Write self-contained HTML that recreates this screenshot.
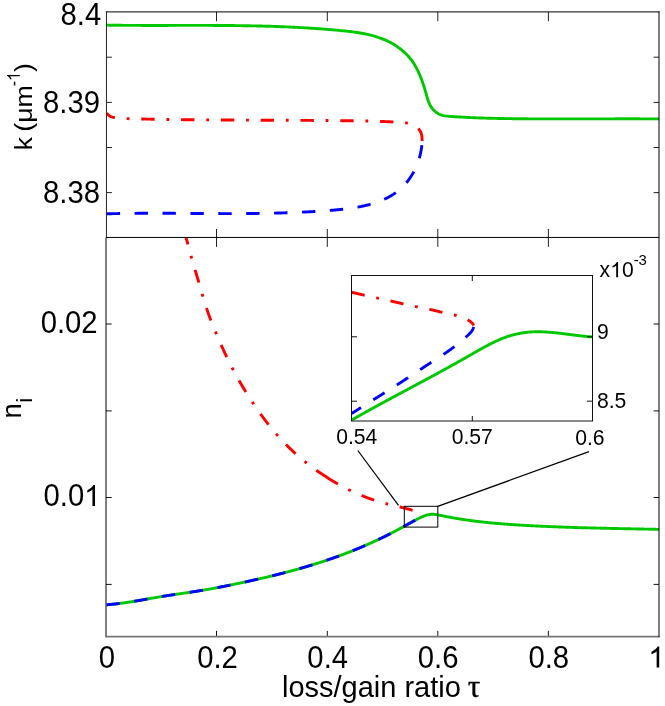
<!DOCTYPE html>
<html><head><meta charset="utf-8"><title>chart</title>
<style>html,body{margin:0;padding:0;background:#fff}svg{display:block}</style>
</head><body>
<svg width="665" height="706" viewBox="0 0 665 706">
<rect width="665" height="706" fill="#fff"/>
<defs>
<clipPath id="ct"><rect x="106.5" y="12.0" width="552.5" height="225.5"/></clipPath>
<clipPath id="cb"><rect x="106.5" y="237.5" width="552.5" height="399.5"/></clipPath>
<clipPath id="ci"><rect x="351.6" y="275.3" width="241.4" height="145.5"/></clipPath>
</defs>
<g clip-path="url(#ct)" fill="none" stroke-width="2.9">
<path d="M106.47 25.15 L107.97 25.17 L109.47 25.19 L110.97 25.21 L112.46 25.23 L113.96 25.25 L115.46 25.27 L116.95 25.28 L118.45 25.30 L119.95 25.31 L121.44 25.32 L122.94 25.33 L124.43 25.35 L125.93 25.36 L127.43 25.37 L128.92 25.37 L130.42 25.38 L131.91 25.39 L133.40 25.40 L134.90 25.40 L136.39 25.41 L137.89 25.41 L139.38 25.42 L140.88 25.42 L142.37 25.43 L143.86 25.43 L145.36 25.43 L146.85 25.43 L148.34 25.43 L149.84 25.44 L151.33 25.44 L152.82 25.44 L154.32 25.44 L155.81 25.44 L157.30 25.44 L158.79 25.43 L160.29 25.43 L161.78 25.43 L163.27 25.43 L164.76 25.43 L166.25 25.43 L167.75 25.43 L169.24 25.42 L170.73 25.42 L172.22 25.42 L173.71 25.42 L175.20 25.41 L176.70 25.41 L178.19 25.41 L179.68 25.41 L181.17 25.40 L182.66 25.40 L184.15 25.40 L185.64 25.40 L187.13 25.40 L188.62 25.40 L190.11 25.39 L191.61 25.39 L193.10 25.39 L194.59 25.39 L196.08 25.39 L197.57 25.39 L199.06 25.39 L200.55 25.39 L202.04 25.40 L203.53 25.40 L205.02 25.40 L206.51 25.40 L208.00 25.41 L209.49 25.41 L210.98 25.41 L212.47 25.42 L213.96 25.43 L215.45 25.43 L216.94 25.44 L218.43 25.45 L219.92 25.45 L221.41 25.46 L222.90 25.47 L224.39 25.48 L225.88 25.49 L227.37 25.51 L228.86 25.52 L230.35 25.53 L231.84 25.55 L233.33 25.56 L234.82 25.58 L236.31 25.60 L237.80 25.62 L239.29 25.63 L240.78 25.65 L242.27 25.68 L243.76 25.70 L245.25 25.72 L246.74 25.75 L248.23 25.77 L249.72 25.80 L251.21 25.83 L252.70 25.86 L254.19 25.89 L255.68 25.92 L257.17 25.95 L258.66 25.99 L260.15 26.02 L261.64 26.06 L263.13 26.10 L264.62 26.14 L266.11 26.18 L267.60 26.22 L269.09 26.27 L270.58 26.31 L272.07 26.36 L273.56 26.41 L275.05 26.46 L276.54 26.51 L278.03 26.56 L279.53 26.62 L281.02 26.68 L282.51 26.73 L284.00 26.79 L285.49 26.86 L286.98 26.92 L288.47 26.99 L289.97 27.05 L291.46 27.12 L292.95 27.19 L294.44 27.27 L295.93 27.34 L297.43 27.42 L298.92 27.49 L300.41 27.58 L301.90 27.66 L303.39 27.74 L304.89 27.83 L306.38 27.92 L307.87 28.01 L309.37 28.10 L310.86 28.20 L312.35 28.29 L313.85 28.39 L315.34 28.49 L316.83 28.60 L318.33 28.70 L319.82 28.81 L321.32 28.92 L322.81 29.03 L324.30 29.15 L325.80 29.26 L327.29 29.38 L328.79 29.51 L330.28 29.63 L331.78 29.76 L333.27 29.89 L334.77 30.02 L336.26 30.15 L337.76 30.29 L339.26 30.43 L340.75 30.57 L342.25 30.72 L343.74 30.87 L345.24 31.02 L346.73 31.18 L348.23 31.34 L349.72 31.52 L351.21 31.69 L352.70 31.88 L354.18 32.08 L355.67 32.28 L357.15 32.50 L358.62 32.73 L360.09 32.97 L361.56 33.22 L363.03 33.48 L364.49 33.77 L365.94 34.06 L367.39 34.37 L368.84 34.70 L370.28 35.04 L371.71 35.41 L373.13 35.79 L374.55 36.19 L375.97 36.61 L377.37 37.06 L378.77 37.52 L380.16 38.01 L381.54 38.52 L382.91 39.05 L384.28 39.61 L385.63 40.20 L386.98 40.81 L388.31 41.45 L389.64 42.12 L390.96 42.81 L392.26 43.54 L393.55 44.29 L394.84 45.08 L396.10 45.89 L397.36 46.74 L398.59 47.61 L399.81 48.51 L401.00 49.44 L402.18 50.40 L403.33 51.38 L404.46 52.39 L405.56 53.43 L406.64 54.50 L407.68 55.59 L408.69 56.70 L409.68 57.84 L410.63 59.01 L411.54 60.19 L412.42 61.41 L413.26 62.64 L414.06 63.90 L414.84 65.17 L415.58 66.46 L416.30 67.77 L416.99 69.08 L417.65 70.41 L418.30 71.75 L418.92 73.09 L419.52 74.44 L420.10 75.80 L420.66 77.17 L421.20 78.54 L421.73 79.93 L422.24 81.32 L422.73 82.72 L423.22 84.12 L423.69 85.54 L424.14 86.96 L424.59 88.40 L425.02 89.84 L425.45 91.29 L425.87 92.75 L426.28 94.21 L426.68 95.69 L427.09 97.16 L427.52 98.63 L427.98 100.09 L428.48 101.52 L429.03 102.92 L429.65 104.28 L430.35 105.60 L431.11 106.87 L431.95 108.08 L432.85 109.22 L433.83 110.29 L434.87 111.28 L435.98 112.20 L437.15 113.02 L438.39 113.74 L439.68 114.36 L441.04 114.88 L442.45 115.29 L443.90 115.63 L445.39 115.89 L446.90 116.09 L448.44 116.25 L449.98 116.38 L451.52 116.49 L453.06 116.60 L454.58 116.70 L456.10 116.80 L457.62 116.89 L459.12 116.99 L460.63 117.07 L462.12 117.16 L463.62 117.24 L465.10 117.32 L466.59 117.40 L468.07 117.47 L469.55 117.54 L471.03 117.61 L472.51 117.67 L473.98 117.74 L475.46 117.80 L476.93 117.86 L478.41 117.91 L479.89 117.96 L481.37 118.01 L482.85 118.06 L484.33 118.11 L485.82 118.16 L487.30 118.20 L488.79 118.24 L490.28 118.28 L491.77 118.32 L493.26 118.35 L494.75 118.38 L496.24 118.42 L497.74 118.45 L499.23 118.48 L500.73 118.50 L502.23 118.53 L503.72 118.56 L505.22 118.58 L506.72 118.60 L508.22 118.62 L509.72 118.64 L511.22 118.66 L512.71 118.68 L514.21 118.70 L515.71 118.71 L517.21 118.73 L518.71 118.74 L520.21 118.76 L521.71 118.77 L523.20 118.78 L524.70 118.80 L526.20 118.81 L527.69 118.82 L529.19 118.83 L530.68 118.84 L532.18 118.85 L533.67 118.85 L535.17 118.86 L536.66 118.87 L538.16 118.88 L539.65 118.88 L541.14 118.89 L542.64 118.89 L544.13 118.90 L545.62 118.90 L547.12 118.90 L548.61 118.91 L550.10 118.91 L551.59 118.91 L553.08 118.92 L554.57 118.92 L556.06 118.92 L557.56 118.92 L559.05 118.92 L560.54 118.92 L562.03 118.92 L563.52 118.92 L565.01 118.92 L566.50 118.92 L567.99 118.92 L569.48 118.92 L570.97 118.91 L572.46 118.91 L573.95 118.91 L575.43 118.91 L576.92 118.90 L578.41 118.90 L579.90 118.90 L581.39 118.90 L582.88 118.89 L584.37 118.89 L585.86 118.89 L587.35 118.88 L588.84 118.88 L590.33 118.88 L591.81 118.87 L593.30 118.87 L594.79 118.87 L596.28 118.86 L597.77 118.86 L599.26 118.86 L600.75 118.85 L602.24 118.85 L603.73 118.85 L605.22 118.84 L606.71 118.84 L608.20 118.84 L609.69 118.83 L611.18 118.83 L612.67 118.83 L614.16 118.83 L615.65 118.82 L617.14 118.82 L618.63 118.82 L620.12 118.82 L621.62 118.82 L623.11 118.82 L624.60 118.82 L626.09 118.82 L627.59 118.81 L629.08 118.81 L630.57 118.82 L632.06 118.82 L633.56 118.82 L635.05 118.82 L636.55 118.82 L638.04 118.82 L639.53 118.82 L641.03 118.83 L642.53 118.83 L644.02 118.83 L645.52 118.84 L647.01 118.84 L648.51 118.85 L650.01 118.85 L651.51 118.86 L653.00 118.87 L654.50 118.87 L656.00 118.88 L657.50 118.89 L659.00 118.90" stroke="#00c800"/>
<path d="M106.68 112.49 L107.17 113.28 L107.70 113.98 L108.29 114.58 L108.93 115.11 L109.60 115.55 L110.32 115.93 L111.06 116.25 L111.82 116.52 L112.61 116.75 L113.41 116.94 L114.21 117.11 L115.02 117.26 L115.84 117.40 L116.65 117.52 L117.47 117.63 L118.29 117.72 L119.11 117.81 L119.93 117.88 L120.75 117.95 L121.58 118.00 L122.40 118.05 L123.23 118.09 L124.06 118.13 L124.88 118.16 L125.71 118.19 L126.54 118.22 L127.37 118.24 L128.20 118.26 L129.02 118.28 L129.85 118.31 L130.68 118.33 L131.51 118.35 L132.34 118.37 L133.17 118.39 L133.99 118.41 L134.82 118.43 L135.65 118.45 L136.48 118.47 L137.31 118.49 L138.14 118.51 L138.97 118.53 L139.79 118.55 L140.62 118.56 L141.45 118.58 L142.28 118.60 L143.11 118.62 L143.94 118.64 L144.77 118.65 L145.60 118.67 L146.42 118.69 L147.25 118.71 L148.08 118.72 L148.91 118.74 L149.74 118.75 L150.57 118.77 L151.40 118.79 L152.22 118.80 L153.05 118.82 L153.88 118.83 L154.71 118.85 L155.54 118.86 L156.37 118.88 L157.20 118.89 L158.03 118.91 L158.85 118.92 L159.68 118.94 L160.51 118.95 L161.34 118.97 L162.17 118.98 L163.00 118.99 L163.83 119.01 L164.66 119.02 L165.49 119.03 L166.31 119.05 L167.14 119.06 L167.97 119.07 L168.80 119.08 L169.63 119.10 L170.46 119.11 L171.29 119.12 L172.12 119.13 L172.94 119.14 L173.77 119.15 L174.60 119.17 L175.43 119.18 L176.26 119.19 L177.09 119.20 L177.92 119.21 L178.75 119.22 L179.58 119.23 L180.40 119.24 L181.23 119.25 L182.06 119.26 L182.89 119.27 L183.72 119.28 L184.55 119.29 L185.38 119.30 L186.21 119.31 L187.04 119.32 L187.86 119.33 L188.69 119.34 L189.52 119.35 L190.35 119.35 L191.18 119.36 L192.01 119.37 L192.84 119.38 L193.67 119.39 L194.50 119.40 L195.33 119.40 L196.15 119.41 L196.98 119.42 L197.81 119.43 L198.64 119.44 L199.47 119.44 L200.30 119.45 L201.13 119.46 L201.96 119.46 L202.79 119.47 L203.61 119.48 L204.44 119.49 L205.27 119.49 L206.10 119.50 L206.93 119.51 L207.76 119.51 L208.59 119.52 L209.42 119.52 L210.25 119.53 L211.07 119.54 L211.90 119.54 L212.73 119.55 L213.56 119.55 L214.39 119.56 L215.22 119.57 L216.05 119.57 L216.88 119.58 L217.71 119.58 L218.53 119.59 L219.36 119.59 L220.19 119.60 L221.02 119.60 L221.85 119.61 L222.68 119.61 L223.51 119.62 L224.34 119.62 L225.17 119.63 L225.99 119.63 L226.82 119.64 L227.65 119.64 L228.48 119.65 L229.31 119.65 L230.14 119.66 L230.97 119.66 L231.80 119.66 L232.63 119.67 L233.45 119.67 L234.28 119.68 L235.11 119.68 L235.94 119.69 L236.77 119.69 L237.60 119.69 L238.43 119.70 L239.26 119.70 L240.09 119.70 L240.91 119.71 L241.74 119.71 L242.57 119.72 L243.40 119.72 L244.23 119.72 L245.06 119.73 L245.89 119.73 L246.72 119.73 L247.54 119.74 L248.37 119.74 L249.20 119.74 L250.03 119.75 L250.86 119.75 L251.69 119.75 L252.52 119.76 L253.35 119.76 L254.17 119.76 L255.00 119.77 L255.83 119.77 L256.66 119.77 L257.49 119.78 L258.32 119.78 L259.15 119.78 L259.97 119.79 L260.80 119.79 L261.63 119.79 L262.46 119.80 L263.29 119.80 L264.12 119.80 L264.95 119.81 L265.77 119.81 L266.60 119.81 L267.43 119.82 L268.26 119.82 L269.09 119.82 L269.92 119.83 L270.75 119.83 L271.57 119.83 L272.40 119.84 L273.23 119.84 L274.06 119.84 L274.89 119.85 L275.72 119.85 L276.55 119.85 L277.37 119.86 L278.20 119.86 L279.03 119.86 L279.86 119.87 L280.69 119.87 L281.52 119.87 L282.34 119.88 L283.17 119.88 L284.00 119.88 L284.83 119.89 L285.66 119.89 L286.49 119.89 L287.31 119.90 L288.14 119.90 L288.97 119.90 L289.80 119.91 L290.63 119.91 L291.46 119.92 L292.28 119.92 L293.11 119.92 L293.94 119.93 L294.77 119.93 L295.60 119.94 L296.43 119.94 L297.25 119.94 L298.08 119.95 L298.91 119.95 L299.74 119.96 L300.57 119.96 L301.39 119.97 L302.22 119.97 L303.05 119.97 L303.88 119.98 L304.71 119.98 L305.53 119.99 L306.36 119.99 L307.19 120.00 L308.02 120.00 L308.85 120.01 L309.67 120.01 L310.50 120.02 L311.33 120.02 L312.16 120.03 L312.99 120.04 L313.81 120.04 L314.64 120.05 L315.47 120.05 L316.30 120.06 L317.13 120.06 L317.95 120.07 L318.78 120.08 L319.61 120.08 L320.44 120.09 L321.26 120.09 L322.09 120.10 L322.92 120.11 L323.75 120.11 L324.57 120.12 L325.40 120.13 L326.23 120.13 L327.06 120.14 L327.89 120.15 L328.71 120.15 L329.54 120.16 L330.37 120.17 L331.20 120.18 L332.02 120.18 L332.85 120.19 L333.68 120.20 L334.51 120.21 L335.33 120.22 L336.16 120.22 L336.99 120.23 L337.82 120.24 L338.64 120.25 L339.47 120.26 L340.30 120.27 L341.12 120.27 L341.95 120.28 L342.78 120.29 L343.61 120.30 L344.43 120.31 L345.26 120.32 L346.09 120.33 L346.92 120.34 L347.74 120.35 L348.57 120.36 L349.40 120.37 L350.22 120.38 L351.05 120.39 L351.88 120.40 L352.71 120.41 L353.53 120.43 L354.36 120.44 L355.19 120.45 L356.01 120.46 L356.84 120.47 L357.67 120.49 L358.50 120.50 L359.32 120.51 L360.15 120.53 L360.98 120.54 L361.81 120.56 L362.63 120.57 L363.46 120.59 L364.29 120.60 L365.12 120.62 L365.95 120.64 L366.77 120.65 L367.60 120.67 L368.43 120.69 L369.26 120.71 L370.09 120.73 L370.91 120.75 L371.74 120.77 L372.57 120.79 L373.40 120.81 L374.23 120.83 L375.06 120.86 L375.89 120.88 L376.72 120.91 L377.55 120.93 L378.38 120.96 L379.21 120.98 L380.04 121.01 L380.87 121.04 L381.70 121.07 L382.53 121.10 L383.36 121.13 L384.19 121.16 L385.02 121.19 L385.85 121.22 L386.68 121.26 L387.51 121.29 L388.35 121.33 L389.18 121.36 L390.01 121.40 L390.84 121.44 L391.68 121.48 L392.51 121.52 L393.34 121.56 L394.18 121.60 L395.01 121.64 L395.84 121.69 L396.68 121.73 L397.51 121.78 L398.35 121.82 L399.18 121.87 L400.02 121.92 L400.85 121.97 L401.69 122.02 L402.52 122.08 L403.35 122.15 L404.18 122.22 L405.01 122.31 L405.83 122.41 L406.64 122.53 L407.45 122.67 L408.26 122.82 L409.05 123.00 L409.84 123.20 L410.62 123.44 L411.39 123.69 L412.15 123.99 L412.90 124.31 L413.64 124.67 L414.36 125.06 L415.07 125.49 L415.75 125.95 L416.41 126.45 L417.05 126.97 L417.66 127.53 L418.24 128.11 L418.79 128.73 L419.30 129.37 L419.77 130.04 L420.20 130.74 L420.59 131.47 L420.93 132.22 L421.23 132.99 L421.47 133.79 L421.66 134.61 L421.81 135.44 L421.92 136.29 L422.01 137.15 L422.06 138.00 L422.10 138.86 L422.12 139.72 L422.13 140.56 L422.13 141.39 L422.15 142.20 L422.16 142.99" stroke="#ff0000" stroke-dasharray="13.4 11.8 2.8 11.8" stroke-dashoffset="3.5" transform="translate(0,0.4)"/>
<path d="M106.70 213.31 L107.57 213.29 L108.45 213.27 L109.33 213.25 L110.21 213.23 L111.08 213.21 L111.96 213.19 L112.84 213.17 L113.72 213.15 L114.59 213.13 L115.47 213.11 L116.35 213.10 L117.23 213.08 L118.10 213.06 L118.98 213.05 L119.86 213.03 L120.73 213.02 L121.61 213.00 L122.49 212.99 L123.37 212.98 L124.24 212.96 L125.12 212.95 L126.00 212.94 L126.87 212.93 L127.75 212.92 L128.63 212.91 L129.51 212.90 L130.38 212.89 L131.26 212.88 L132.14 212.87 L133.01 212.86 L133.89 212.85 L134.77 212.85 L135.65 212.84 L136.52 212.83 L137.40 212.82 L138.28 212.82 L139.15 212.81 L140.03 212.81 L140.91 212.80 L141.78 212.80 L142.66 212.79 L143.54 212.79 L144.41 212.79 L145.29 212.78 L146.17 212.78 L147.04 212.78 L147.92 212.78 L148.80 212.77 L149.67 212.77 L150.55 212.77 L151.43 212.77 L152.30 212.77 L153.18 212.77 L154.06 212.77 L154.93 212.77 L155.81 212.77 L156.69 212.77 L157.56 212.77 L158.44 212.77 L159.32 212.77 L160.19 212.77 L161.07 212.78 L161.95 212.78 L162.82 212.78 L163.70 212.78 L164.58 212.78 L165.45 212.79 L166.33 212.79 L167.21 212.79 L168.08 212.80 L168.96 212.80 L169.84 212.80 L170.71 212.81 L171.59 212.81 L172.47 212.81 L173.34 212.82 L174.22 212.82 L175.09 212.83 L175.97 212.83 L176.85 212.84 L177.72 212.84 L178.60 212.85 L179.48 212.85 L180.35 212.86 L181.23 212.86 L182.11 212.87 L182.98 212.87 L183.86 212.88 L184.73 212.88 L185.61 212.89 L186.49 212.89 L187.36 212.90 L188.24 212.90 L189.12 212.91 L189.99 212.91 L190.87 212.92 L191.74 212.93 L192.62 212.93 L193.50 212.94 L194.37 212.94 L195.25 212.95 L196.13 212.95 L197.00 212.96 L197.88 212.96 L198.75 212.97 L199.63 212.97 L200.51 212.98 L201.38 212.99 L202.26 212.99 L203.13 213.00 L204.01 213.00 L204.89 213.01 L205.76 213.01 L206.64 213.02 L207.51 213.02 L208.39 213.03 L209.27 213.03 L210.14 213.03 L211.02 213.04 L211.89 213.04 L212.77 213.05 L213.65 213.05 L214.52 213.05 L215.40 213.06 L216.27 213.06 L217.15 213.06 L218.03 213.07 L218.90 213.07 L219.78 213.07 L220.65 213.08 L221.53 213.08 L222.41 213.08 L223.28 213.08 L224.16 213.08 L225.03 213.08 L225.91 213.09 L226.79 213.09 L227.66 213.09 L228.54 213.09 L229.41 213.09 L230.29 213.09 L231.16 213.09 L232.04 213.09 L232.92 213.09 L233.79 213.09 L234.67 213.09 L235.54 213.08 L236.42 213.08 L237.30 213.08 L238.17 213.08 L239.05 213.07 L239.92 213.07 L240.80 213.07 L241.67 213.06 L242.55 213.06 L243.43 213.05 L244.30 213.05 L245.18 213.04 L246.05 213.04 L246.93 213.03 L247.81 213.03 L248.68 213.02 L249.56 213.01 L250.43 213.01 L251.31 213.00 L252.18 212.99 L253.06 212.98 L253.94 212.97 L254.81 212.96 L255.69 212.95 L256.56 212.94 L257.44 212.93 L258.31 212.92 L259.19 212.91 L260.07 212.90 L260.94 212.88 L261.82 212.87 L262.69 212.86 L263.57 212.84 L264.44 212.83 L265.32 212.81 L266.20 212.80 L267.07 212.78 L267.95 212.76 L268.82 212.75 L269.70 212.73 L270.57 212.71 L271.45 212.69 L272.33 212.67 L273.20 212.65 L274.08 212.63 L274.95 212.61 L275.83 212.59 L276.70 212.57 L277.58 212.55 L278.46 212.52 L279.33 212.50 L280.21 212.47 L281.08 212.45 L281.96 212.42 L282.83 212.40 L283.71 212.37 L284.59 212.34 L285.46 212.31 L286.34 212.29 L287.21 212.26 L288.09 212.23 L288.96 212.20 L289.84 212.16 L290.72 212.13 L291.59 212.10 L292.47 212.07 L293.34 212.03 L294.22 212.00 L295.09 211.96 L295.97 211.92 L296.85 211.89 L297.72 211.85 L298.60 211.81 L299.47 211.77 L300.35 211.73 L301.22 211.69 L302.10 211.65 L302.98 211.61 L303.85 211.57 L304.73 211.52 L305.60 211.48 L306.48 211.43 L307.35 211.39 L308.23 211.34 L309.11 211.29 L309.98 211.24 L310.86 211.19 L311.73 211.15 L312.61 211.09 L313.48 211.04 L314.36 210.99 L315.24 210.94 L316.11 210.88 L316.99 210.83 L317.86 210.77 L318.74 210.72 L319.61 210.66 L320.49 210.60 L321.37 210.54 L322.24 210.48 L323.12 210.42 L323.99 210.36 L324.87 210.29 L325.75 210.23 L326.62 210.17 L327.50 210.10 L328.37 210.03 L329.25 209.97 L330.12 209.90 L331.00 209.83 L331.88 209.76 L332.75 209.69 L333.63 209.61 L334.50 209.54 L335.38 209.46 L336.25 209.38 L337.13 209.30 L338.00 209.22 L338.88 209.14 L339.75 209.05 L340.63 208.97 L341.50 208.88 L342.37 208.78 L343.25 208.69 L344.12 208.59 L344.99 208.49 L345.86 208.39 L346.73 208.28 L347.61 208.17 L348.48 208.06 L349.35 207.94 L350.21 207.82 L351.08 207.70 L351.95 207.57 L352.82 207.44 L353.68 207.31 L354.55 207.17 L355.42 207.03 L356.28 206.88 L357.14 206.73 L358.01 206.57 L358.87 206.41 L359.73 206.24 L360.59 206.07 L361.45 205.90 L362.31 205.72 L363.16 205.53 L364.02 205.34 L364.87 205.14 L365.73 204.94 L366.58 204.73 L367.43 204.52 L368.28 204.30 L369.13 204.07 L369.98 203.84 L370.83 203.61 L371.67 203.36 L372.52 203.11 L373.36 202.85 L374.20 202.59 L375.04 202.32 L375.88 202.04 L376.71 201.75 L377.54 201.46 L378.37 201.16 L379.20 200.85 L380.02 200.54 L380.83 200.22 L381.65 199.88 L382.46 199.54 L383.27 199.20 L384.07 198.84 L384.86 198.48 L385.66 198.10 L386.44 197.72 L387.23 197.33 L388.00 196.93 L388.77 196.52 L389.54 196.10 L390.30 195.67 L391.05 195.23 L391.80 194.78 L392.53 194.33 L393.27 193.86 L393.99 193.38 L394.71 192.89 L395.42 192.39 L396.12 191.88 L396.82 191.36 L397.51 190.83 L398.19 190.29 L398.86 189.74 L399.52 189.18 L400.17 188.61 L400.82 188.03 L401.46 187.43 L402.09 186.83 L402.71 186.23 L403.32 185.61 L403.92 184.98 L404.52 184.34 L405.10 183.70 L405.68 183.04 L406.25 182.38 L406.81 181.71 L407.36 181.03 L407.90 180.34 L408.43 179.65 L408.95 178.94 L409.47 178.23 L409.97 177.52 L410.46 176.79 L410.95 176.06 L411.42 175.32 L411.89 174.57 L412.34 173.82 L412.79 173.06 L413.22 172.29 L413.64 171.52 L414.06 170.74 L414.46 169.95 L414.86 169.16 L415.24 168.37 L415.62 167.56 L415.98 166.76 L416.33 165.94 L416.68 165.13 L417.01 164.31 L417.33 163.48 L417.65 162.65 L417.95 161.82 L418.24 160.98 L418.52 160.14 L418.80 159.30 L419.06 158.45 L419.31 157.60 L419.55 156.75 L419.78 155.90 L420.01 155.04 L420.22 154.18 L420.42 153.32 L420.61 152.46 L420.79 151.60 L420.96 150.74 L421.12 149.87 L421.27 149.01 L421.41 148.14 L421.54 147.28 L421.66 146.41 L421.77 145.55 L421.87 144.69 L421.96 143.82 L422.04 142.96" stroke="#0000ff" stroke-dasharray="13.4 14.5" transform="translate(0,0.5)"/>
</g>
<g clip-path="url(#cb)" fill="none" stroke-width="2.9">
<path d="M106.30 604.80 L106.68 604.77 L107.06 604.74 L107.44 604.71 L107.82 604.68 L108.20 604.65 L108.58 604.62 L108.95 604.59 L109.33 604.56 L109.71 604.53 L110.09 604.49 L110.47 604.46 L110.85 604.42 L111.23 604.39 L111.61 604.35 L111.98 604.31 L112.36 604.28 L112.74 604.24 L113.12 604.20 L113.49 604.16 L113.87 604.12 L114.25 604.08 L114.63 604.04 L115.01 604.00 L115.38 603.96 L115.76 603.91 L116.14 603.87 L116.51 603.83 L116.89 603.78 L117.27 603.74 L117.64 603.69 L118.02 603.65 L118.40 603.60 L118.77 603.55 L119.15 603.51 L119.53 603.46 L119.90 603.41 L120.28 603.36 L120.66 603.31 L121.03 603.26 L121.41 603.21 L121.78 603.16 L122.16 603.11 L122.54 603.06 L122.91 603.01 L123.29 602.96 L123.66 602.90 L124.04 602.85 L124.41 602.80 L124.79 602.74 L125.17 602.69 L125.54 602.63 L125.92 602.58 L126.29 602.52 L126.67 602.47 L127.04 602.41 L127.42 602.36 L127.79 602.30 L128.17 602.24 L128.54 602.18 L128.92 602.13 L129.29 602.07 L129.67 602.01 L130.04 601.95 L130.42 601.89 L130.79 601.83 L131.16 601.77 L131.54 601.71 L131.91 601.65 L132.29 601.59 L132.66 601.53 L133.04 601.47 L133.41 601.41 L133.79 601.35 L134.16 601.29 L134.53 601.23 L134.91 601.16 L135.28 601.10 L135.66 601.04 L136.03 600.98 L136.40 600.91 L136.78 600.85 L137.15 600.79 L137.53 600.72 L137.90 600.66 L138.27 600.59 L138.65 600.53 L139.02 600.47 L139.40 600.40 L139.77 600.34 L140.14 600.27 L140.52 600.21 L140.89 600.14 L141.27 600.08 L141.64 600.01 L142.01 599.95 L142.39 599.88 L142.76 599.82 L143.13 599.75 L143.51 599.69 L143.88 599.62 L144.25 599.55 L144.63 599.49 L145.00 599.42 L145.38 599.36 L145.75 599.29 L146.12 599.23 L146.50 599.16 L146.87 599.09 L147.24 599.03 L147.62 598.96 L147.99 598.90 L148.37 598.83 L148.74 598.76 L149.11 598.70 L149.49 598.63 L149.86 598.57 L150.23 598.50 L150.61 598.43 L150.98 598.37 L151.35 598.30 L151.73 598.24 L152.10 598.17 L152.48 598.10 L152.85 598.04 L153.22 597.97 L153.60 597.91 L153.97 597.84 L154.35 597.78 L154.72 597.71 L155.09 597.65 L155.47 597.58 L155.84 597.52 L156.22 597.45 L156.59 597.39 L156.96 597.33 L157.34 597.26 L157.71 597.20 L158.09 597.13 L158.46 597.07 L158.83 597.01 L159.21 596.94 L159.58 596.88 L159.96 596.82 L160.33 596.75 L160.71 596.69 L161.08 596.63 L161.45 596.57 L161.83 596.51 L162.20 596.44 L162.58 596.38 L162.95 596.32 L163.33 596.26 L163.70 596.20 L164.08 596.14 L164.45 596.08 L164.83 596.02 L165.20 595.96 L165.58 595.90 L165.95 595.84 L166.33 595.78 L166.70 595.72 L167.08 595.67 L167.45 595.61 L167.83 595.55 L168.20 595.49 L168.58 595.43 L168.95 595.38 L169.33 595.32 L169.70 595.26 L170.08 595.21 L170.45 595.15 L170.83 595.09 L171.21 595.04 L171.58 594.98 L171.96 594.92 L172.33 594.87 L172.71 594.81 L173.08 594.75 L173.46 594.70 L173.83 594.64 L174.21 594.59 L174.59 594.53 L174.96 594.48 L175.34 594.42 L175.71 594.37 L176.09 594.31 L176.46 594.25 L176.84 594.20 L177.22 594.14 L177.59 594.09 L177.97 594.03 L178.34 593.98 L178.72 593.93 L179.09 593.87 L179.47 593.82 L179.85 593.76 L180.22 593.71 L180.60 593.65 L180.97 593.60 L181.35 593.54 L181.72 593.49 L182.10 593.43 L182.48 593.38 L182.85 593.32 L183.23 593.27 L183.60 593.21 L183.98 593.16 L184.35 593.10 L184.73 593.05 L185.11 592.99 L185.48 592.94 L185.86 592.88 L186.23 592.83 L186.61 592.77 L186.98 592.71 L187.36 592.66 L187.73 592.60 L188.11 592.55 L188.49 592.49 L188.86 592.44 L189.24 592.38 L189.61 592.32 L189.99 592.27 L190.36 592.21 L190.74 592.15 L191.11 592.10 L191.49 592.04 L191.86 591.98 L192.24 591.92 L192.61 591.87 L192.99 591.81 L193.36 591.75 L193.74 591.69 L194.11 591.63 L194.49 591.58 L194.86 591.52 L195.24 591.46 L195.61 591.40 L195.99 591.34 L196.36 591.28 L196.74 591.22 L197.11 591.16 L197.49 591.10 L197.86 591.04 L198.24 590.98 L198.61 590.92 L198.99 590.86 L199.36 590.80 L199.73 590.73 L200.11 590.67 L200.48 590.61 L200.86 590.55 L201.23 590.49 L201.61 590.42 L201.98 590.36 L202.35 590.30 L202.73 590.24 L203.10 590.17 L203.48 590.11 L203.85 590.05 L204.22 589.98 L204.60 589.92 L204.97 589.85 L205.35 589.79 L205.72 589.72 L206.09 589.66 L206.47 589.59 L206.84 589.53 L207.21 589.46 L207.59 589.40 L207.96 589.33 L208.33 589.27 L208.71 589.20 L209.08 589.14 L209.46 589.07 L209.83 589.00 L210.20 588.94 L210.58 588.87 L210.95 588.80 L211.32 588.73 L211.70 588.67 L212.07 588.60 L212.44 588.53 L212.81 588.46 L213.19 588.40 L213.56 588.33 L213.93 588.26 L214.31 588.19 L214.68 588.12 L215.05 588.05 L215.43 587.98 L215.80 587.91 L216.17 587.84 L216.54 587.77 L216.92 587.70 L217.29 587.63 L217.66 587.56 L218.03 587.49 L218.41 587.42 L218.78 587.35 L219.15 587.28 L219.53 587.21 L219.90 587.14 L220.27 587.07 L220.64 587.00 L221.02 586.93 L221.39 586.85 L221.76 586.78 L222.13 586.71 L222.50 586.64 L222.88 586.57 L223.25 586.49 L223.62 586.42 L223.99 586.35 L224.37 586.28 L224.74 586.20 L225.11 586.13 L225.48 586.06 L225.85 585.98 L226.23 585.91 L226.60 585.84 L226.97 585.76 L227.34 585.69 L227.71 585.61 L228.09 585.54 L228.46 585.46 L228.83 585.39 L229.20 585.31 L229.57 585.24 L229.95 585.16 L230.32 585.09 L230.69 585.01 L231.06 584.94 L231.43 584.86 L231.81 584.79 L232.18 584.71 L232.55 584.64 L232.92 584.56 L233.29 584.48 L233.66 584.41 L234.03 584.33 L234.41 584.25 L234.78 584.18 L235.15 584.10 L235.52 584.02 L235.89 583.95 L236.26 583.87 L236.64 583.79 L237.01 583.72 L237.38 583.64 L237.75 583.56 L238.12 583.48 L238.49 583.40 L238.86 583.33 L239.23 583.25 L239.61 583.17 L239.98 583.09 L240.35 583.01 L240.72 582.94 L241.09 582.86 L241.46 582.78 L241.83 582.70 L242.20 582.62 L242.58 582.54 L242.95 582.46 L243.32 582.38 L243.69 582.30 L244.06 582.22 L244.43 582.14 L244.80 582.06 L245.17 581.98 L245.54 581.90 L245.92 581.82 L246.29 581.74 L246.66 581.66 L247.03 581.58 L247.40 581.50 L247.77 581.42 L248.14 581.34 L248.51 581.26 L248.88 581.18 L249.25 581.10 L249.62 581.02 L249.99 580.94 L250.37 580.85 L250.74 580.77 L251.11 580.69 L251.48 580.61 L251.85 580.53 L252.22 580.44 L252.59 580.36 L252.96 580.28 L253.33 580.20 L253.70 580.11 L254.07 580.03 L254.44 579.95 L254.81 579.87 L255.18 579.78 L255.55 579.70 L255.92 579.62 L256.29 579.53 L256.66 579.45 L257.03 579.37 L257.40 579.28 L257.78 579.20 L258.15 579.11 L258.52 579.03 L258.89 578.94 L259.26 578.86 L259.63 578.78 L260.00 578.69 L260.37 578.61 L260.74 578.52 L261.11 578.44 L261.48 578.35 L261.85 578.26 L262.22 578.18 L262.59 578.09 L262.95 578.01 L263.32 577.92 L263.69 577.83 L264.06 577.75 L264.43 577.66 L264.80 577.57 L265.17 577.49 L265.54 577.40 L265.91 577.31 L266.28 577.23 L266.65 577.14 L267.02 577.05 L267.39 576.96 L267.76 576.88 L268.13 576.79 L268.50 576.70 L268.87 576.61 L269.24 576.52 L269.61 576.43 L269.97 576.35 L270.34 576.26 L270.71 576.17 L271.08 576.08 L271.45 575.99 L271.82 575.90 L272.19 575.81 L272.56 575.72 L272.93 575.63 L273.29 575.54 L273.66 575.45 L274.03 575.36 L274.40 575.27 L274.77 575.18 L275.14 575.09 L275.51 574.99 L275.87 574.90 L276.24 574.81 L276.61 574.72 L276.98 574.63 L277.35 574.54 L277.72 574.44 L278.08 574.35 L278.45 574.26 L278.82 574.17 L279.19 574.07 L279.56 573.98 L279.92 573.89 L280.29 573.79 L280.66 573.70 L281.03 573.61 L281.40 573.51 L281.76 573.42 L282.13 573.32 L282.50 573.23 L282.87 573.13 L283.23 573.04 L283.60 572.94 L283.97 572.85 L284.34 572.75 L284.70 572.66 L285.07 572.56 L285.44 572.47 L285.81 572.37 L286.17 572.27 L286.54 572.18 L286.91 572.08 L287.27 571.98 L287.64 571.89 L288.01 571.79 L288.37 571.69 L288.74 571.59 L289.11 571.50 L289.47 571.40 L289.84 571.30 L290.21 571.20 L290.57 571.10 L290.94 571.00 L291.31 570.91 L291.67 570.81 L292.04 570.71 L292.41 570.61 L292.77 570.51 L293.14 570.41 L293.50 570.31 L293.87 570.21 L294.24 570.11 L294.60 570.01 L294.97 569.91 L295.33 569.80 L295.70 569.70 L296.07 569.60 L296.43 569.50 L296.80 569.40 L297.16 569.30 L297.53 569.19 L297.89 569.09 L298.26 568.99 L298.62 568.89 L298.99 568.78 L299.35 568.68 L299.72 568.58 L300.08 568.47 L300.45 568.37 L300.81 568.26 L301.18 568.16 L301.54 568.06 L301.91 567.95 L302.27 567.85 L302.64 567.74 L303.00 567.63 L303.37 567.53 L303.73 567.42 L304.09 567.32 L304.46 567.21 L304.82 567.10 L305.19 567.00 L305.55 566.89 L305.92 566.78 L306.28 566.68 L306.64 566.57 L307.01 566.46 L307.37 566.35 L307.73 566.24 L308.10 566.14 L308.46 566.03 L308.82 565.92 L309.19 565.81 L309.55 565.70 L309.91 565.59 L310.28 565.48 L310.64 565.37 L311.00 565.26 L311.37 565.15 L311.73 565.04 L312.09 564.93 L312.46 564.82 L312.82 564.70 L313.18 564.59 L313.54 564.48 L313.91 564.37 L314.27 564.26 L314.63 564.14 L314.99 564.03 L315.35 563.92 L315.72 563.80 L316.08 563.69 L316.44 563.58 L316.80 563.46 L317.16 563.35 L317.53 563.23 L317.89 563.12 L318.25 563.00 L318.61 562.89 L318.97 562.77 L319.33 562.66 L319.69 562.54 L320.06 562.43 L320.42 562.31 L320.78 562.19 L321.14 562.08 L321.50 561.96 L321.86 561.84 L322.22 561.72 L322.58 561.61 L322.94 561.49 L323.30 561.37 L323.66 561.25 L324.02 561.13 L324.38 561.01 L324.74 560.89 L325.10 560.77 L325.46 560.65 L325.82 560.53 L326.18 560.41 L326.54 560.29 L326.90 560.17 L327.26 560.05 L327.62 559.93 L327.98 559.81 L328.34 559.68 L328.70 559.56 L329.06 559.44 L329.42 559.32 L329.78 559.19 L330.14 559.07 L330.49 558.95 L330.85 558.82 L331.21 558.70 L331.57 558.57 L331.93 558.45 L332.29 558.32 L332.65 558.20 L333.00 558.07 L333.36 557.95 L333.72 557.82 L334.08 557.70 L334.44 557.57 L334.79 557.44 L335.15 557.32 L335.51 557.19 L335.87 557.06 L336.22 556.93 L336.58 556.81 L336.94 556.68 L337.29 556.55 L337.65 556.42 L338.01 556.29 L338.37 556.16 L338.72 556.03 L339.08 555.90 L339.44 555.77 L339.79 555.64 L340.15 555.51 L340.50 555.38 L340.86 555.25 L341.22 555.12 L341.57 554.98 L341.93 554.85 L342.28 554.72 L342.64 554.59 L342.99 554.45 L343.35 554.32 L343.71 554.19 L344.06 554.05 L344.42 553.92 L344.77 553.79 L345.13 553.65 L345.48 553.52 L345.83 553.38 L346.19 553.25 L346.54 553.11 L346.90 552.97 L347.25 552.84 L347.61 552.70 L347.96 552.57 L348.31 552.43 L348.67 552.29 L349.02 552.15 L349.37 552.02 L349.73 551.88 L350.08 551.74 L350.43 551.60 L350.79 551.46 L351.14 551.32 L351.49 551.18 L351.85 551.04 L352.20 550.90 L352.55 550.76 L352.90 550.62 L353.26 550.48 L353.61 550.34 L353.96 550.20 L354.31 550.06 L354.66 549.91 L355.02 549.77 L355.37 549.63 L355.72 549.49 L356.07 549.34 L356.42 549.20 L356.77 549.06 L357.12 548.91 L357.48 548.77 L357.83 548.62 L358.18 548.48 L358.53 548.33 L358.88 548.19 L359.23 548.04 L359.58 547.90 L359.93 547.75 L360.28 547.60 L360.63 547.46 L360.98 547.31 L361.33 547.16 L361.68 547.01 L362.03 546.86 L362.37 546.72 L362.72 546.57 L363.07 546.42 L363.42 546.27 L363.77 546.12 L364.12 545.97 L364.47 545.82 L364.82 545.67 L365.16 545.52 L365.51 545.37 L365.86 545.22 L366.21 545.06 L366.55 544.91 L366.90 544.76 L367.25 544.61 L367.60 544.46 L367.94 544.30 L368.29 544.15 L368.64 544.00 L368.98 543.84 L369.33 543.69 L369.68 543.53 L370.02 543.38 L370.37 543.22 L370.72 543.07 L371.06 542.91 L371.41 542.75 L371.75 542.60 L372.10 542.44 L372.44 542.28 L372.79 542.13 L373.13 541.97 L373.48 541.81 L373.82 541.65 L374.17 541.50 L374.51 541.34 L374.86 541.18 L375.20 541.02 L375.54 540.86 L375.89 540.70 L376.23 540.54 L376.58 540.38 L376.92 540.22 L377.26 540.06 L377.61 539.89 L377.95 539.73 L378.29 539.57 L378.63 539.41 L378.98 539.24 L379.32 539.08 L379.66 538.92 L380.00 538.75 L380.35 538.59 L380.69 538.43 L381.03 538.26 L381.37 538.10 L381.71 537.93 L382.05 537.77 L382.39 537.60 L382.73 537.43 L383.08 537.27 L383.42 537.10 L383.76 536.93 L384.10 536.77 L384.44 536.60 L384.78 536.43 L385.12 536.26 L385.46 536.09 L385.80 535.92 L386.13 535.75 L386.47 535.59 L386.81 535.42 L387.15 535.24 L387.49 535.07 L387.83 534.90 L388.17 534.73 L388.51 534.56 L388.84 534.39 L389.18 534.22 L389.52 534.04 L389.86 533.87 L390.19 533.70 L390.53 533.53 L390.87 533.35 L391.21 533.18 L391.54 533.00 L391.88 532.83 L392.22 532.65 L392.55 532.48 L392.89 532.30 L393.22 532.13 L393.56 531.95 L393.90 531.77 L394.23 531.60 L394.57 531.42 L394.90 531.24 L395.24 531.07 L395.57 530.89 L395.91 530.71 L396.24 530.53 L396.58 530.35 L396.91 530.18 L397.25 530.00 L397.58 529.82 L397.92 529.64 L398.25 529.46 L398.58 529.28 L398.92 529.10 L399.25 528.92 L399.59 528.74 L399.92 528.56 L400.26 528.38 L400.59 528.20 L400.92 528.02 L401.26 527.84 L401.59 527.66 L401.92 527.48 L402.26 527.30 L402.59 527.12 L402.93 526.93 L403.26 526.75 L403.59 526.57 L403.93 526.39 L404.26 526.21 L404.59 526.03 L404.93 525.85 L405.26 525.66 L405.60 525.48 L405.93 525.30 L406.26 525.12 L406.60 524.94 L406.93 524.76 L407.26 524.57 L407.60 524.39 L407.93 524.21 L408.27 524.03 L408.60 523.85 L408.93 523.67 L409.27 523.48 L409.60 523.30 L409.94 523.12 L410.27 522.94 L410.60 522.76 L410.94 522.58 L411.27 522.40 L411.61 522.22 L411.94 522.03 L412.28 521.85 L412.61 521.67 L412.95 521.49 L413.28 521.31 L413.62 521.13 L413.95 520.95 L414.29 520.77 L414.62 520.59 L414.96 520.41 L415.29 520.23 L415.63 520.05 L415.97 519.87 L416.30 519.69 L416.64 519.51 L416.98 519.34 L417.31 519.16 L417.65 518.98 L417.99 518.81 L418.33 518.63 L418.67 518.46 L419.01 518.29 L419.35 518.11 L419.69 517.94 L420.03 517.77 L420.38 517.60 L420.72 517.44 L421.07 517.27 L421.41 517.11 L421.76 516.95 L422.11 516.79 L422.45 516.64 L422.80 516.48 L423.16 516.34 L423.51 516.19 L423.86 516.05 L424.22 515.91 L424.57 515.78 L424.93 515.65 L425.29 515.53 L425.65 515.41 L426.01 515.30 L426.37 515.19 L426.73 515.08 L427.09 514.98 L427.45 514.89 L427.82 514.80 L428.18 514.72 L428.55 514.65 L428.91 514.58 L429.28 514.52 L429.65 514.46 L430.02 514.41 L430.38 514.37 L430.75 514.34 L431.12 514.31 L431.49 514.29 L431.86 514.28 L432.23 514.27 L432.60 514.27 L432.97 514.28 L433.34 514.30 L433.71 514.32 L434.09 514.34 L434.46 514.38 L434.83 514.41 L435.20 514.45 L435.57 514.50 L435.95 514.55 L436.32 514.60 L436.69 514.66 L437.07 514.72 L437.44 514.79 L437.81 514.85 L438.19 514.92 L438.56 515.00 L438.94 515.07 L439.31 515.14 L439.69 515.22 L440.06 515.30 L440.43 515.38 L440.81 515.45 L441.18 515.53 L441.56 515.61 L441.93 515.69 L442.31 515.77 L442.68 515.84 L443.06 515.92 L443.43 516.00 L443.81 516.07 L444.18 516.15 L444.56 516.22 L444.93 516.30 L445.31 516.37 L445.68 516.44 L446.06 516.52 L446.43 516.59 L446.81 516.66 L447.18 516.74 L447.56 516.81 L447.93 516.88 L448.31 516.95 L448.68 517.02 L449.06 517.09 L449.43 517.16 L449.81 517.23 L450.18 517.30 L450.56 517.37 L450.93 517.44 L451.31 517.51 L451.68 517.57 L452.06 517.64 L452.43 517.71 L452.81 517.78 L453.18 517.84 L453.56 517.91 L453.94 517.97 L454.31 518.04 L454.69 518.10 L455.06 518.17 L455.44 518.23 L455.81 518.30 L456.19 518.36 L456.56 518.42 L456.94 518.48 L457.31 518.55 L457.69 518.61 L458.07 518.67 L458.44 518.73 L458.82 518.79 L459.19 518.85 L459.57 518.91 L459.94 518.97 L460.32 519.03 L460.70 519.09 L461.07 519.15 L461.45 519.21 L461.82 519.27 L462.20 519.33 L462.58 519.38 L462.95 519.44 L463.33 519.50 L463.70 519.55 L464.08 519.61 L464.45 519.67 L464.83 519.72 L465.21 519.78 L465.58 519.83 L465.96 519.89 L466.33 519.94 L466.71 520.00 L467.09 520.05 L467.46 520.10 L467.84 520.16 L468.22 520.21 L468.59 520.26 L468.97 520.31 L469.34 520.36 L469.72 520.42 L470.10 520.47 L470.47 520.52 L470.85 520.57 L471.23 520.62 L471.60 520.67 L471.98 520.72 L472.35 520.77 L472.73 520.82 L473.11 520.87 L473.48 520.91 L473.86 520.96 L474.24 521.01 L474.61 521.06 L474.99 521.11 L475.37 521.15 L475.74 521.20 L476.12 521.25 L476.50 521.29 L476.87 521.34 L477.25 521.38 L477.63 521.43 L478.00 521.47 L478.38 521.52 L478.76 521.56 L479.13 521.61 L479.51 521.65 L479.89 521.70 L480.26 521.74 L480.64 521.78 L481.02 521.83 L481.39 521.87 L481.77 521.91 L482.15 521.95 L482.52 521.99 L482.90 522.04 L483.28 522.08 L483.65 522.12 L484.03 522.16 L484.41 522.20 L484.79 522.24 L485.16 522.28 L485.54 522.32 L485.92 522.36 L486.29 522.40 L486.67 522.44 L487.05 522.48 L487.42 522.52 L487.80 522.55 L488.18 522.59 L488.56 522.63 L488.93 522.67 L489.31 522.71 L489.69 522.74 L490.06 522.78 L490.44 522.82 L490.82 522.85 L491.20 522.89 L491.57 522.93 L491.95 522.96 L492.33 523.00 L492.71 523.03 L493.08 523.07 L493.46 523.10 L493.84 523.14 L494.22 523.17 L494.59 523.21 L494.97 523.24 L495.35 523.27 L495.72 523.31 L496.10 523.34 L496.48 523.37 L496.86 523.41 L497.23 523.44 L497.61 523.47 L497.99 523.50 L498.37 523.54 L498.74 523.57 L499.12 523.60 L499.50 523.63 L499.88 523.66 L500.26 523.69 L500.63 523.73 L501.01 523.76 L501.39 523.79 L501.77 523.82 L502.14 523.85 L502.52 523.88 L502.90 523.91 L503.28 523.94 L503.65 523.97 L504.03 524.00 L504.41 524.02 L504.79 524.05 L505.17 524.08 L505.54 524.11 L505.92 524.14 L506.30 524.17 L506.68 524.20 L507.06 524.22 L507.43 524.25 L507.81 524.28 L508.19 524.31 L508.57 524.33 L508.95 524.36 L509.32 524.39 L509.70 524.41 L510.08 524.44 L510.46 524.47 L510.84 524.49 L511.21 524.52 L511.59 524.55 L511.97 524.57 L512.35 524.60 L512.73 524.62 L513.10 524.65 L513.48 524.67 L513.86 524.70 L514.24 524.72 L514.62 524.75 L514.99 524.77 L515.37 524.80 L515.75 524.82 L516.13 524.85 L516.51 524.87 L516.89 524.89 L517.26 524.92 L517.64 524.94 L518.02 524.96 L518.40 524.99 L518.78 525.01 L519.16 525.03 L519.53 525.06 L519.91 525.08 L520.29 525.10 L520.67 525.12 L521.05 525.15 L521.43 525.17 L521.80 525.19 L522.18 525.21 L522.56 525.24 L522.94 525.26 L523.32 525.28 L523.70 525.30 L524.08 525.32 L524.45 525.34 L524.83 525.37 L525.21 525.39 L525.59 525.41 L525.97 525.43 L526.35 525.45 L526.73 525.47 L527.10 525.49 L527.48 525.51 L527.86 525.53 L528.24 525.55 L528.62 525.57 L529.00 525.59 L529.38 525.61 L529.75 525.63 L530.13 525.65 L530.51 525.67 L530.89 525.69 L531.27 525.71 L531.65 525.73 L532.03 525.75 L532.41 525.77 L532.78 525.79 L533.16 525.81 L533.54 525.83 L533.92 525.85 L534.30 525.87 L534.68 525.89 L535.06 525.91 L535.44 525.92 L535.81 525.94 L536.19 525.96 L536.57 525.98 L536.95 526.00 L537.33 526.02 L537.71 526.04 L538.09 526.05 L538.47 526.07 L538.85 526.09 L539.23 526.11 L539.60 526.13 L539.98 526.14 L540.36 526.16 L540.74 526.18 L541.12 526.20 L541.50 526.21 L541.88 526.23 L542.26 526.25 L542.64 526.27 L543.02 526.28 L543.39 526.30 L543.77 526.32 L544.15 526.33 L544.53 526.35 L544.91 526.37 L545.29 526.39 L545.67 526.40 L546.05 526.42 L546.43 526.43 L546.81 526.45 L547.19 526.47 L547.56 526.48 L547.94 526.50 L548.32 526.52 L548.70 526.53 L549.08 526.55 L549.46 526.56 L549.84 526.58 L550.22 526.60 L550.60 526.61 L550.98 526.63 L551.36 526.64 L551.74 526.66 L552.11 526.67 L552.49 526.69 L552.87 526.70 L553.25 526.72 L553.63 526.74 L554.01 526.75 L554.39 526.77 L554.77 526.78 L555.15 526.80 L555.53 526.81 L555.91 526.82 L556.29 526.84 L556.67 526.85 L557.05 526.87 L557.43 526.88 L557.80 526.90 L558.18 526.91 L558.56 526.93 L558.94 526.94 L559.32 526.95 L559.70 526.97 L560.08 526.98 L560.46 527.00 L560.84 527.01 L561.22 527.02 L561.60 527.04 L561.98 527.05 L562.36 527.07 L562.74 527.08 L563.12 527.09 L563.50 527.11 L563.88 527.12 L564.25 527.13 L564.63 527.15 L565.01 527.16 L565.39 527.17 L565.77 527.19 L566.15 527.20 L566.53 527.21 L566.91 527.23 L567.29 527.24 L567.67 527.25 L568.05 527.26 L568.43 527.28 L568.81 527.29 L569.19 527.30 L569.57 527.31 L569.95 527.33 L570.33 527.34 L570.71 527.35 L571.09 527.36 L571.47 527.38 L571.84 527.39 L572.22 527.40 L572.60 527.41 L572.98 527.43 L573.36 527.44 L573.74 527.45 L574.12 527.46 L574.50 527.47 L574.88 527.48 L575.26 527.50 L575.64 527.51 L576.02 527.52 L576.40 527.53 L576.78 527.54 L577.16 527.55 L577.54 527.57 L577.92 527.58 L578.30 527.59 L578.68 527.60 L579.06 527.61 L579.44 527.62 L579.82 527.63 L580.20 527.64 L580.58 527.66 L580.96 527.67 L581.33 527.68 L581.71 527.69 L582.09 527.70 L582.47 527.71 L582.85 527.72 L583.23 527.73 L583.61 527.74 L583.99 527.75 L584.37 527.76 L584.75 527.77 L585.13 527.79 L585.51 527.80 L585.89 527.81 L586.27 527.82 L586.65 527.83 L587.03 527.84 L587.41 527.85 L587.79 527.86 L588.17 527.87 L588.55 527.88 L588.93 527.89 L589.31 527.90 L589.69 527.91 L590.07 527.92 L590.45 527.93 L590.83 527.94 L591.21 527.95 L591.59 527.96 L591.97 527.97 L592.34 527.98 L592.72 527.99 L593.10 528.00 L593.48 528.01 L593.86 528.02 L594.24 528.03 L594.62 528.04 L595.00 528.04 L595.38 528.05 L595.76 528.06 L596.14 528.07 L596.52 528.08 L596.90 528.09 L597.28 528.10 L597.66 528.11 L598.04 528.12 L598.42 528.13 L598.80 528.14 L599.18 528.15 L599.56 528.16 L599.94 528.17 L600.32 528.17 L600.70 528.18 L601.08 528.19 L601.46 528.20 L601.84 528.21 L602.22 528.22 L602.60 528.23 L602.98 528.24 L603.36 528.25 L603.73 528.25 L604.11 528.26 L604.49 528.27 L604.87 528.28 L605.25 528.29 L605.63 528.30 L606.01 528.31 L606.39 528.32 L606.77 528.32 L607.15 528.33 L607.53 528.34 L607.91 528.35 L608.29 528.36 L608.67 528.37 L609.05 528.37 L609.43 528.38 L609.81 528.39 L610.19 528.40 L610.57 528.41 L610.95 528.42 L611.33 528.42 L611.71 528.43 L612.09 528.44 L612.47 528.45 L612.85 528.46 L613.23 528.47 L613.61 528.47 L613.98 528.48 L614.36 528.49 L614.74 528.50 L615.12 528.51 L615.50 528.51 L615.88 528.52 L616.26 528.53 L616.64 528.54 L617.02 528.55 L617.40 528.55 L617.78 528.56 L618.16 528.57 L618.54 528.58 L618.92 528.58 L619.30 528.59 L619.68 528.60 L620.06 528.61 L620.44 528.62 L620.82 528.62 L621.20 528.63 L621.58 528.64 L621.96 528.65 L622.33 528.65 L622.71 528.66 L623.09 528.67 L623.47 528.68 L623.85 528.69 L624.23 528.69 L624.61 528.70 L624.99 528.71 L625.37 528.72 L625.75 528.72 L626.13 528.73 L626.51 528.74 L626.89 528.75 L627.27 528.75 L627.65 528.76 L628.03 528.77 L628.41 528.78 L628.79 528.78 L629.16 528.79 L629.54 528.80 L629.92 528.81 L630.30 528.81 L630.68 528.82 L631.06 528.83 L631.44 528.84 L631.82 528.84 L632.20 528.85 L632.58 528.86 L632.96 528.87 L633.34 528.87 L633.72 528.88 L634.10 528.89 L634.48 528.90 L634.85 528.90 L635.23 528.91 L635.61 528.92 L635.99 528.93 L636.37 528.93 L636.75 528.94 L637.13 528.95 L637.51 528.96 L637.89 528.96 L638.27 528.97 L638.65 528.98 L639.03 528.99 L639.41 528.99 L639.78 529.00 L640.16 529.01 L640.54 529.01 L640.92 529.02 L641.30 529.03 L641.68 529.04 L642.06 529.04 L642.44 529.05 L642.82 529.06 L643.20 529.07 L643.58 529.07 L643.96 529.08 L644.33 529.09 L644.71 529.10 L645.09 529.10 L645.47 529.11 L645.85 529.12 L646.23 529.13 L646.61 529.13 L646.99 529.14 L647.37 529.15 L647.75 529.16 L648.13 529.16 L648.50 529.17 L648.88 529.18 L649.26 529.19 L649.64 529.19 L650.02 529.20 L650.40 529.21 L650.78 529.22 L651.16 529.22 L651.54 529.23 L651.91 529.24 L652.29 529.25 L652.67 529.25 L653.05 529.26 L653.43 529.27 L653.81 529.28 L654.19 529.28 L654.57 529.29 L654.95 529.30 L655.32 529.31 L655.70 529.31 L656.08 529.32 L656.46 529.33 L656.84 529.34 L657.22 529.34 L657.60 529.35 L657.98 529.36 L658.35 529.37 L658.73 529.38 L659.11 529.38 L659.49 529.39" stroke="#00c800"/>
<path d="M106.30 604.80 L106.68 604.77 L107.06 604.74 L107.44 604.71 L107.82 604.68 L108.20 604.65 L108.58 604.62 L108.95 604.59 L109.33 604.56 L109.71 604.53 L110.09 604.49 L110.47 604.46 L110.85 604.42 L111.23 604.39 L111.61 604.35 L111.98 604.31 L112.36 604.28 L112.74 604.24 L113.12 604.20 L113.49 604.16 L113.87 604.12 L114.25 604.08 L114.63 604.04 L115.01 604.00 L115.38 603.96 L115.76 603.91 L116.14 603.87 L116.51 603.83 L116.89 603.78 L117.27 603.74 L117.64 603.69 L118.02 603.65 L118.40 603.60 L118.77 603.55 L119.15 603.51 L119.53 603.46 L119.90 603.41 L120.28 603.36 L120.66 603.31 L121.03 603.26 L121.41 603.21 L121.78 603.16 L122.16 603.11 L122.54 603.06 L122.91 603.01 L123.29 602.96 L123.66 602.90 L124.04 602.85 L124.41 602.80 L124.79 602.74 L125.17 602.69 L125.54 602.63 L125.92 602.58 L126.29 602.52 L126.67 602.47 L127.04 602.41 L127.42 602.36 L127.79 602.30 L128.17 602.24 L128.54 602.18 L128.92 602.13 L129.29 602.07 L129.67 602.01 L130.04 601.95 L130.42 601.89 L130.79 601.83 L131.16 601.77 L131.54 601.71 L131.91 601.65 L132.29 601.59 L132.66 601.53 L133.04 601.47 L133.41 601.41 L133.79 601.35 L134.16 601.29 L134.53 601.23 L134.91 601.16 L135.28 601.10 L135.66 601.04 L136.03 600.98 L136.40 600.91 L136.78 600.85 L137.15 600.79 L137.53 600.72 L137.90 600.66 L138.27 600.59 L138.65 600.53 L139.02 600.47 L139.40 600.40 L139.77 600.34 L140.14 600.27 L140.52 600.21 L140.89 600.14 L141.27 600.08 L141.64 600.01 L142.01 599.95 L142.39 599.88 L142.76 599.82 L143.13 599.75 L143.51 599.69 L143.88 599.62 L144.25 599.55 L144.63 599.49 L145.00 599.42 L145.38 599.36 L145.75 599.29 L146.12 599.23 L146.50 599.16 L146.87 599.09 L147.24 599.03 L147.62 598.96 L147.99 598.90 L148.37 598.83 L148.74 598.76 L149.11 598.70 L149.49 598.63 L149.86 598.57 L150.23 598.50 L150.61 598.43 L150.98 598.37 L151.35 598.30 L151.73 598.24 L152.10 598.17 L152.48 598.10 L152.85 598.04 L153.22 597.97 L153.60 597.91 L153.97 597.84 L154.35 597.78 L154.72 597.71 L155.09 597.65 L155.47 597.58 L155.84 597.52 L156.22 597.45 L156.59 597.39 L156.96 597.33 L157.34 597.26 L157.71 597.20 L158.09 597.13 L158.46 597.07 L158.83 597.01 L159.21 596.94 L159.58 596.88 L159.96 596.82 L160.33 596.75 L160.71 596.69 L161.08 596.63 L161.45 596.57 L161.83 596.51 L162.20 596.44 L162.58 596.38 L162.95 596.32 L163.33 596.26 L163.70 596.20 L164.08 596.14 L164.45 596.08 L164.83 596.02 L165.20 595.96 L165.58 595.90 L165.95 595.84 L166.33 595.78 L166.70 595.72 L167.08 595.67 L167.45 595.61 L167.83 595.55 L168.20 595.49 L168.58 595.43 L168.95 595.38 L169.33 595.32 L169.70 595.26 L170.08 595.21 L170.45 595.15 L170.83 595.09 L171.21 595.04 L171.58 594.98 L171.96 594.92 L172.33 594.87 L172.71 594.81 L173.08 594.75 L173.46 594.70 L173.83 594.64 L174.21 594.59 L174.59 594.53 L174.96 594.48 L175.34 594.42 L175.71 594.37 L176.09 594.31 L176.46 594.25 L176.84 594.20 L177.22 594.14 L177.59 594.09 L177.97 594.03 L178.34 593.98 L178.72 593.93 L179.09 593.87 L179.47 593.82 L179.85 593.76 L180.22 593.71 L180.60 593.65 L180.97 593.60 L181.35 593.54 L181.72 593.49 L182.10 593.43 L182.48 593.38 L182.85 593.32 L183.23 593.27 L183.60 593.21 L183.98 593.16 L184.35 593.10 L184.73 593.05 L185.11 592.99 L185.48 592.94 L185.86 592.88 L186.23 592.83 L186.61 592.77 L186.98 592.71 L187.36 592.66 L187.73 592.60 L188.11 592.55 L188.49 592.49 L188.86 592.44 L189.24 592.38 L189.61 592.32 L189.99 592.27 L190.36 592.21 L190.74 592.15 L191.11 592.10 L191.49 592.04 L191.86 591.98 L192.24 591.92 L192.61 591.87 L192.99 591.81 L193.36 591.75 L193.74 591.69 L194.11 591.63 L194.49 591.58 L194.86 591.52 L195.24 591.46 L195.61 591.40 L195.99 591.34 L196.36 591.28 L196.74 591.22 L197.11 591.16 L197.49 591.10 L197.86 591.04 L198.24 590.98 L198.61 590.92 L198.99 590.86 L199.36 590.80 L199.73 590.73 L200.11 590.67 L200.48 590.61 L200.86 590.55 L201.23 590.49 L201.61 590.42 L201.98 590.36 L202.35 590.30 L202.73 590.24 L203.10 590.17 L203.48 590.11 L203.85 590.05 L204.22 589.98 L204.60 589.92 L204.97 589.85 L205.35 589.79 L205.72 589.72 L206.09 589.66 L206.47 589.59 L206.84 589.53 L207.21 589.46 L207.59 589.40 L207.96 589.33 L208.33 589.27 L208.71 589.20 L209.08 589.14 L209.46 589.07 L209.83 589.00 L210.20 588.94 L210.58 588.87 L210.95 588.80 L211.32 588.73 L211.70 588.67 L212.07 588.60 L212.44 588.53 L212.81 588.46 L213.19 588.40 L213.56 588.33 L213.93 588.26 L214.31 588.19 L214.68 588.12 L215.05 588.05 L215.43 587.98 L215.80 587.91 L216.17 587.84 L216.54 587.77 L216.92 587.70 L217.29 587.63 L217.66 587.56 L218.03 587.49 L218.41 587.42 L218.78 587.35 L219.15 587.28 L219.53 587.21 L219.90 587.14 L220.27 587.07 L220.64 587.00 L221.02 586.93 L221.39 586.85 L221.76 586.78 L222.13 586.71 L222.50 586.64 L222.88 586.57 L223.25 586.49 L223.62 586.42 L223.99 586.35 L224.37 586.28 L224.74 586.20 L225.11 586.13 L225.48 586.06 L225.85 585.98 L226.23 585.91 L226.60 585.84 L226.97 585.76 L227.34 585.69 L227.71 585.61 L228.09 585.54 L228.46 585.46 L228.83 585.39 L229.20 585.31 L229.57 585.24 L229.95 585.16 L230.32 585.09 L230.69 585.01 L231.06 584.94 L231.43 584.86 L231.81 584.79 L232.18 584.71 L232.55 584.64 L232.92 584.56 L233.29 584.48 L233.66 584.41 L234.03 584.33 L234.41 584.25 L234.78 584.18 L235.15 584.10 L235.52 584.02 L235.89 583.95 L236.26 583.87 L236.64 583.79 L237.01 583.72 L237.38 583.64 L237.75 583.56 L238.12 583.48 L238.49 583.40 L238.86 583.33 L239.23 583.25 L239.61 583.17 L239.98 583.09 L240.35 583.01 L240.72 582.94 L241.09 582.86 L241.46 582.78 L241.83 582.70 L242.20 582.62 L242.58 582.54 L242.95 582.46 L243.32 582.38 L243.69 582.30 L244.06 582.22 L244.43 582.14 L244.80 582.06 L245.17 581.98 L245.54 581.90 L245.92 581.82 L246.29 581.74 L246.66 581.66 L247.03 581.58 L247.40 581.50 L247.77 581.42 L248.14 581.34 L248.51 581.26 L248.88 581.18 L249.25 581.10 L249.62 581.02 L249.99 580.94 L250.37 580.85 L250.74 580.77 L251.11 580.69 L251.48 580.61 L251.85 580.53 L252.22 580.44 L252.59 580.36 L252.96 580.28 L253.33 580.20 L253.70 580.11 L254.07 580.03 L254.44 579.95 L254.81 579.87 L255.18 579.78 L255.55 579.70 L255.92 579.62 L256.29 579.53 L256.66 579.45 L257.03 579.37 L257.40 579.28 L257.78 579.20 L258.15 579.11 L258.52 579.03 L258.89 578.94 L259.26 578.86 L259.63 578.78 L260.00 578.69 L260.37 578.61 L260.74 578.52 L261.11 578.44 L261.48 578.35 L261.85 578.26 L262.22 578.18 L262.59 578.09 L262.95 578.01 L263.32 577.92 L263.69 577.83 L264.06 577.75 L264.43 577.66 L264.80 577.57 L265.17 577.49 L265.54 577.40 L265.91 577.31 L266.28 577.23 L266.65 577.14 L267.02 577.05 L267.39 576.96 L267.76 576.88 L268.13 576.79 L268.50 576.70 L268.87 576.61 L269.24 576.52 L269.61 576.43 L269.97 576.35 L270.34 576.26 L270.71 576.17 L271.08 576.08 L271.45 575.99 L271.82 575.90 L272.19 575.81 L272.56 575.72 L272.93 575.63 L273.29 575.54 L273.66 575.45 L274.03 575.36 L274.40 575.27 L274.77 575.18 L275.14 575.09 L275.51 574.99 L275.87 574.90 L276.24 574.81 L276.61 574.72 L276.98 574.63 L277.35 574.54 L277.72 574.44 L278.08 574.35 L278.45 574.26 L278.82 574.17 L279.19 574.07 L279.56 573.98 L279.92 573.89 L280.29 573.79 L280.66 573.70 L281.03 573.61 L281.40 573.51 L281.76 573.42 L282.13 573.32 L282.50 573.23 L282.87 573.13 L283.23 573.04 L283.60 572.94 L283.97 572.85 L284.34 572.75 L284.70 572.66 L285.07 572.56 L285.44 572.47 L285.81 572.37 L286.17 572.27 L286.54 572.18 L286.91 572.08 L287.27 571.98 L287.64 571.89 L288.01 571.79 L288.37 571.69 L288.74 571.59 L289.11 571.50 L289.47 571.40 L289.84 571.30 L290.21 571.20 L290.57 571.10 L290.94 571.00 L291.31 570.91 L291.67 570.81 L292.04 570.71 L292.41 570.61 L292.77 570.51 L293.14 570.41 L293.50 570.31 L293.87 570.21 L294.24 570.11 L294.60 570.01 L294.97 569.91 L295.33 569.80 L295.70 569.70 L296.07 569.60 L296.43 569.50 L296.80 569.40 L297.16 569.30 L297.53 569.19 L297.89 569.09 L298.26 568.99 L298.62 568.89 L298.99 568.78 L299.35 568.68 L299.72 568.58 L300.08 568.47 L300.45 568.37 L300.81 568.26 L301.18 568.16 L301.54 568.06 L301.91 567.95 L302.27 567.85 L302.64 567.74 L303.00 567.63 L303.37 567.53 L303.73 567.42 L304.09 567.32 L304.46 567.21 L304.82 567.10 L305.19 567.00 L305.55 566.89 L305.92 566.78 L306.28 566.68 L306.64 566.57 L307.01 566.46 L307.37 566.35 L307.73 566.24 L308.10 566.14 L308.46 566.03 L308.82 565.92 L309.19 565.81 L309.55 565.70 L309.91 565.59 L310.28 565.48 L310.64 565.37 L311.00 565.26 L311.37 565.15 L311.73 565.04 L312.09 564.93 L312.46 564.82 L312.82 564.70 L313.18 564.59 L313.54 564.48 L313.91 564.37 L314.27 564.26 L314.63 564.14 L314.99 564.03 L315.35 563.92 L315.72 563.80 L316.08 563.69 L316.44 563.58 L316.80 563.46 L317.16 563.35 L317.53 563.23 L317.89 563.12 L318.25 563.00 L318.61 562.89 L318.97 562.77 L319.33 562.66 L319.69 562.54 L320.06 562.43 L320.42 562.31 L320.78 562.19 L321.14 562.08 L321.50 561.96 L321.86 561.84 L322.22 561.72 L322.58 561.61 L322.94 561.49 L323.30 561.37 L323.66 561.25 L324.02 561.13 L324.38 561.01 L324.74 560.89 L325.10 560.77 L325.46 560.65 L325.82 560.53 L326.18 560.41 L326.54 560.29 L326.90 560.17 L327.26 560.05 L327.62 559.93 L327.98 559.81 L328.34 559.68 L328.70 559.56 L329.06 559.44 L329.42 559.32 L329.78 559.19 L330.14 559.07 L330.49 558.95 L330.85 558.82 L331.21 558.70 L331.57 558.57 L331.93 558.45 L332.29 558.32 L332.65 558.20 L333.00 558.07 L333.36 557.95 L333.72 557.82 L334.08 557.70 L334.44 557.57 L334.79 557.44 L335.15 557.32 L335.51 557.19 L335.87 557.06 L336.22 556.93 L336.58 556.81 L336.94 556.68 L337.29 556.55 L337.65 556.42 L338.01 556.29 L338.37 556.16 L338.72 556.03 L339.08 555.90 L339.44 555.77 L339.79 555.64 L340.15 555.51 L340.50 555.38 L340.86 555.25 L341.22 555.12 L341.57 554.98 L341.93 554.85 L342.28 554.72 L342.64 554.59 L342.99 554.45 L343.35 554.32 L343.71 554.19 L344.06 554.05 L344.42 553.92 L344.77 553.79 L345.13 553.65 L345.48 553.52 L345.83 553.38 L346.19 553.25 L346.54 553.11 L346.90 552.97 L347.25 552.84 L347.61 552.70 L347.96 552.57 L348.31 552.43 L348.67 552.29 L349.02 552.15 L349.37 552.02 L349.73 551.88 L350.08 551.74 L350.43 551.60 L350.79 551.46 L351.14 551.32 L351.49 551.18 L351.85 551.04 L352.20 550.90 L352.55 550.76 L352.90 550.62 L353.26 550.48 L353.61 550.34 L353.96 550.20 L354.31 550.06 L354.66 549.91 L355.02 549.77 L355.37 549.63 L355.72 549.49 L356.07 549.34 L356.42 549.20 L356.77 549.06 L357.12 548.91 L357.48 548.77 L357.83 548.62 L358.18 548.48 L358.53 548.33 L358.88 548.19 L359.23 548.04 L359.58 547.90 L359.93 547.75 L360.28 547.60 L360.63 547.46 L360.98 547.31 L361.33 547.16 L361.68 547.01 L362.03 546.86 L362.37 546.72 L362.72 546.57 L363.07 546.42 L363.42 546.27 L363.77 546.12 L364.12 545.97 L364.47 545.82 L364.82 545.67 L365.16 545.52 L365.51 545.37 L365.86 545.22 L366.21 545.06 L366.55 544.91 L366.90 544.76 L367.25 544.61 L367.60 544.46 L367.94 544.30 L368.29 544.15 L368.64 544.00 L368.98 543.84 L369.33 543.69 L369.68 543.53 L370.02 543.38 L370.37 543.22 L370.72 543.07 L371.06 542.91 L371.41 542.75 L371.75 542.60 L372.10 542.44 L372.44 542.28 L372.79 542.13 L373.13 541.97 L373.48 541.81 L373.82 541.65 L374.17 541.50 L374.51 541.34 L374.86 541.18 L375.20 541.02 L375.54 540.86 L375.89 540.70 L376.23 540.54 L376.58 540.38 L376.92 540.22 L377.26 540.06 L377.61 539.89 L377.95 539.73 L378.29 539.57 L378.63 539.41 L378.98 539.24 L379.32 539.08 L379.66 538.92 L380.00 538.75 L380.35 538.59 L380.69 538.43 L381.03 538.26 L381.37 538.10 L381.71 537.93 L382.05 537.77 L382.39 537.60 L382.73 537.43 L383.08 537.27 L383.42 537.10 L383.76 536.93 L384.10 536.77 L384.44 536.60 L384.78 536.43 L385.12 536.26 L385.46 536.09 L385.80 535.92 L386.13 535.75 L386.47 535.59 L386.81 535.42 L387.15 535.24 L387.49 535.07 L387.83 534.90 L388.17 534.73 L388.51 534.56 L388.84 534.39 L389.18 534.22 L389.52 534.04 L389.86 533.87 L390.19 533.70 L390.53 533.53 L390.87 533.35 L391.21 533.18 L391.54 533.00 L391.88 532.83 L392.22 532.65 L392.55 532.48 L392.89 532.30 L393.22 532.13 L393.56 531.95 L393.90 531.77 L394.23 531.60 L394.57 531.42 L394.90 531.24 L395.24 531.07 L395.57 530.89 L395.91 530.71 L396.24 530.53 L396.58 530.35 L396.91 530.18 L397.25 530.00 L397.58 529.82 L397.92 529.64 L398.25 529.46 L398.58 529.28 L398.92 529.10 L399.25 528.92 L399.59 528.74 L399.92 528.56 L400.26 528.38 L400.59 528.20 L400.92 528.02 L401.26 527.84 L401.59 527.66 L401.92 527.48 L402.26 527.30 L402.59 527.12 L402.93 526.93 L403.26 526.75 L403.59 526.57 L403.93 526.39 L404.26 526.21 L404.59 526.03 L404.93 525.85 L405.26 525.66 L405.60 525.48 L405.93 525.30 L406.26 525.12 L406.60 524.94 L406.93 524.76 L407.26 524.57 L407.60 524.39 L407.93 524.21 L408.27 524.03 L408.60 523.85 L408.93 523.67 L409.27 523.48 L409.60 523.30 L409.94 523.12 L410.27 522.94 L410.60 522.76 L410.94 522.58 L411.27 522.40 L411.61 522.22 L411.94 522.03 L412.28 521.85 L412.61 521.67 L412.95 521.49 L413.28 521.31 L413.62 521.13 L413.95 520.95 L414.29 520.77 L414.62 520.59 L414.96 520.41 L415.29 520.23 L415.63 520.05 L415.97 519.87 L416.30 519.69 L416.64 519.51 L416.98 519.34 L417.31 519.16 L417.65 518.98 L417.99 518.81 L418.33 518.63 L418.67 518.46 L419.01 518.29 L419.35 518.11 L419.69 517.94 L420.03 517.77 L420.38 517.60 L420.72 517.44 L421.07 517.27 L421.41 517.11" stroke="#0000ff" stroke-dasharray="13.5 14.6"/>
<path d="M183.80 231.00 L184.01 231.70 L184.21 232.40 L184.42 233.10 L184.62 233.81 L184.82 234.51 L185.02 235.21 L185.22 235.92 L185.42 236.62 L185.61 237.33 L185.81 238.03 L186.00 238.74 L186.19 239.44 L186.39 240.15 L186.58 240.85 L186.77 241.56 L186.96 242.27 L187.15 242.97 L187.34 243.68 L187.52 244.39 L187.71 245.09 L187.90 245.80 L188.09 246.51 L188.28 247.21 L188.46 247.92 L188.65 248.63 L188.84 249.33 L189.03 250.04 L189.22 250.74 L189.41 251.45 L189.60 252.16 L189.79 252.86 L189.98 253.57 L190.17 254.27 L190.36 254.98 L190.55 255.68 L190.75 256.39 L190.94 257.09 L191.14 257.80 L191.34 258.50 L191.54 259.20 L191.73 259.91 L191.94 260.61 L192.14 261.31 L192.34 262.02 L192.54 262.72 L192.75 263.42 L192.95 264.12 L193.16 264.82 L193.36 265.52 L193.57 266.22 L193.78 266.92 L193.99 267.62 L194.20 268.32 L194.41 269.02 L194.62 269.72 L194.83 270.42 L195.05 271.12 L195.26 271.82 L195.47 272.52 L195.69 273.22 L195.90 273.91 L196.12 274.61 L196.33 275.31 L196.54 276.01 L196.76 276.71 L196.97 277.41 L197.18 278.11 L197.39 278.81 L197.60 279.51 L197.81 280.21 L198.02 280.91 L198.23 281.61 L198.44 282.31 L198.64 283.01 L198.85 283.71 L199.05 284.42 L199.25 285.12 L199.45 285.82 L199.65 286.52 L199.86 287.23 L200.06 287.93 L200.26 288.63 L200.46 289.34 L200.66 290.04 L200.86 290.74 L201.06 291.45 L201.26 292.15 L201.46 292.85 L201.66 293.55 L201.86 294.26 L202.07 294.96 L202.27 295.66 L202.48 296.36 L202.68 297.06 L202.89 297.76 L203.10 298.46 L203.31 299.16 L203.52 299.86 L203.73 300.56 L203.95 301.26 L204.16 301.96 L204.38 302.65 L204.59 303.35 L204.81 304.05 L205.03 304.75 L205.25 305.44 L205.47 306.14 L205.70 306.83 L205.92 307.53 L206.15 308.22 L206.38 308.91 L206.61 309.61 L206.84 310.30 L207.07 310.99 L207.31 311.68 L207.55 312.37 L207.79 313.06 L208.03 313.75 L208.27 314.44 L208.51 315.13 L208.76 315.82 L209.01 316.50 L209.26 317.19 L209.51 317.87 L209.77 318.56 L210.02 319.24 L210.28 319.93 L210.54 320.61 L210.81 321.29 L211.07 321.97 L211.34 322.65 L211.61 323.33 L211.88 324.01 L212.15 324.69 L212.43 325.37 L212.70 326.04 L212.98 326.72 L213.26 327.40 L213.54 328.07 L213.82 328.75 L214.10 329.42 L214.38 330.10 L214.67 330.77 L214.95 331.45 L215.23 332.12 L215.52 332.80 L215.80 333.47 L216.09 334.14 L216.38 334.82 L216.66 335.49 L216.95 336.16 L217.24 336.83 L217.53 337.51 L217.82 338.18 L218.11 338.85 L218.40 339.52 L218.69 340.19 L218.99 340.86 L219.28 341.53 L219.57 342.20 L219.87 342.87 L220.16 343.54 L220.46 344.21 L220.76 344.88 L221.05 345.54 L221.35 346.21 L221.65 346.88 L221.95 347.55 L222.25 348.21 L222.55 348.88 L222.86 349.54 L223.16 350.21 L223.47 350.87 L223.77 351.54 L224.08 352.20 L224.39 352.86 L224.70 353.52 L225.01 354.19 L225.32 354.85 L225.63 355.51 L225.94 356.17 L226.26 356.83 L226.57 357.49 L226.89 358.14 L227.21 358.80 L227.53 359.46 L227.85 360.12 L228.17 360.77 L228.49 361.43 L228.81 362.08 L229.14 362.74 L229.46 363.39 L229.79 364.04 L230.12 364.70 L230.45 365.35 L230.78 366.00 L231.12 366.65 L231.45 367.30 L231.79 367.95 L232.12 368.60 L232.46 369.24 L232.80 369.89 L233.14 370.54 L233.49 371.18 L233.83 371.83 L234.18 372.47 L234.52 373.11 L234.87 373.76 L235.22 374.40 L235.57 375.04 L235.92 375.68 L236.28 376.32 L236.63 376.96 L236.99 377.59 L237.35 378.23 L237.71 378.87 L238.07 379.50 L238.43 380.14 L238.79 380.77 L239.16 381.41 L239.52 382.04 L239.89 382.67 L240.26 383.31 L240.63 383.94 L241.00 384.57 L241.37 385.20 L241.74 385.83 L242.11 386.45 L242.49 387.08 L242.87 387.71 L243.25 388.33 L243.62 388.96 L244.00 389.58 L244.39 390.21 L244.77 390.83 L245.15 391.45 L245.54 392.07 L245.92 392.69 L246.31 393.32 L246.70 393.93 L247.09 394.55 L247.48 395.17 L247.87 395.79 L248.27 396.41 L248.66 397.02 L249.05 397.64 L249.45 398.25 L249.85 398.86 L250.25 399.48 L250.65 400.09 L251.05 400.70 L251.45 401.31 L251.85 401.92 L252.26 402.53 L252.66 403.14 L253.07 403.75 L253.47 404.36 L253.88 404.96 L254.29 405.57 L254.70 406.17 L255.11 406.78 L255.53 407.38 L255.94 407.98 L256.35 408.58 L256.77 409.18 L257.19 409.78 L257.61 410.38 L258.03 410.98 L258.45 411.58 L258.87 412.18 L259.29 412.77 L259.72 413.36 L260.14 413.96 L260.57 414.55 L261.00 415.14 L261.43 415.73 L261.86 416.32 L262.29 416.91 L262.73 417.50 L263.16 418.09 L263.60 418.67 L264.04 419.26 L264.48 419.84 L264.92 420.42 L265.36 421.00 L265.80 421.58 L266.25 422.16 L266.69 422.74 L267.14 423.32 L267.59 423.89 L268.04 424.47 L268.49 425.04 L268.95 425.61 L269.40 426.18 L269.86 426.75 L270.32 427.32 L270.78 427.89 L271.24 428.45 L271.71 429.02 L272.17 429.58 L272.64 430.14 L273.11 430.70 L273.58 431.26 L274.05 431.82 L274.52 432.38 L275.00 432.93 L275.47 433.49 L275.95 434.04 L276.43 434.59 L276.91 435.14 L277.40 435.69 L277.88 436.24 L278.37 436.78 L278.86 437.33 L279.35 437.87 L279.84 438.41 L280.34 438.95 L280.83 439.49 L281.33 440.02 L281.83 440.56 L282.33 441.09 L282.83 441.63 L283.33 442.16 L283.84 442.69 L284.35 443.21 L284.86 443.74 L285.37 444.26 L285.88 444.79 L286.39 445.31 L286.91 445.83 L287.43 446.34 L287.95 446.86 L288.47 447.38 L288.99 447.89 L289.51 448.40 L290.04 448.91 L290.57 449.42 L291.09 449.92 L291.62 450.43 L292.16 450.93 L292.69 451.43 L293.23 451.93 L293.76 452.43 L294.30 452.92 L294.84 453.42 L295.38 453.91 L295.93 454.40 L296.47 454.89 L297.02 455.37 L297.57 455.86 L298.12 456.34 L298.67 456.82 L299.22 457.30 L299.78 457.78 L300.33 458.25 L300.89 458.72 L301.45 459.19 L302.01 459.66 L302.57 460.13 L303.14 460.60 L303.70 461.06 L304.27 461.52 L304.84 461.98 L305.41 462.44 L305.98 462.89 L306.56 463.35 L307.13 463.80 L307.71 464.25 L308.29 464.69 L308.87 465.14 L309.45 465.58 L310.03 466.02 L310.62 466.46 L311.20 466.90 L311.79 467.33 L312.38 467.76 L312.97 468.19 L313.56 468.62 L314.16 469.05 L314.75 469.47 L315.35 469.89 L315.95 470.31 L316.54 470.73 L317.15 471.14 L317.75 471.55 L318.35 471.96 L318.96 472.37 L319.57 472.77 L320.17 473.18 L320.78 473.58 L321.40 473.98 L322.01 474.37 L322.62 474.77 L323.24 475.16 L323.86 475.55 L324.48 475.93 L325.10 476.32 L325.72 476.70 L326.34 477.08" stroke="#ff0000" stroke-dasharray="13.4 11.8 2.8 11.8" stroke-dashoffset="-0.5" transform="translate(0.4,0)"/>
<path d="M326.39 477.01 L326.61 477.15 L326.82 477.29 L327.04 477.43 L327.25 477.57 L327.47 477.71 L327.69 477.85 L327.90 477.99 L328.12 478.13 L328.34 478.26 L328.55 478.40 L328.77 478.54 L328.99 478.68 L329.21 478.81 L329.42 478.95 L329.64 479.09 L329.86 479.22 L330.08 479.36 L330.30 479.50 L330.51 479.63 L330.73 479.77 L330.95 479.90 L331.17 480.04 L331.39 480.17 L331.61 480.31 L331.83 480.44 L332.05 480.57 L332.27 480.71 L332.49 480.84 L332.71 480.97 L332.93 481.11 L333.15 481.24 L333.37 481.37 L333.59 481.50 L333.81 481.64 L334.03 481.77 L334.25 481.90 L334.47 482.03 L334.69 482.16 L334.92 482.29 L335.14 482.42 L335.36 482.55 L335.58 482.68 L335.80 482.81 L336.03 482.94 L336.25 483.07 L336.47 483.19 L336.69 483.32 L336.92 483.45 L337.14 483.58 L337.36 483.71 L337.59 483.83 L337.81 483.96 L338.03 484.09 L338.26 484.21 L338.48 484.34 L338.71 484.46 L338.93 484.59 L339.15 484.71 L339.38 484.84 L339.60 484.96 L339.83 485.09 L340.05 485.21 L340.28 485.34 L340.50 485.46 L340.73 485.58 L340.96 485.71 L341.18 485.83 L341.41 485.95 L341.63 486.07 L341.86 486.19 L342.09 486.32 L342.31 486.44 L342.54 486.56 L342.77 486.68 L342.99 486.80 L343.22 486.92 L343.45 487.04 L343.67 487.16 L343.90 487.28 L344.13 487.40 L344.36 487.52 L344.58 487.63 L344.81 487.75 L345.04 487.87 L345.27 487.99 L345.50 488.10 L345.73 488.22 L345.96 488.34 L346.18 488.45 L346.41 488.57 L346.64 488.69 L346.87 488.80 L347.10 488.92 L347.33 489.03 L347.56 489.15 L347.79 489.26 L348.02 489.38 L348.25 489.49 L348.48 489.60 L348.71 489.72 L348.94 489.83 L349.17 489.94 L349.40 490.05 L349.63 490.17 L349.87 490.28 L350.10 490.39 L350.33 490.50 L350.56 490.61 L350.79 490.72 L351.02 490.83 L351.26 490.94 L351.49 491.05 L351.72 491.16 L351.95 491.27 L352.18 491.38 L352.42 491.49 L352.65 491.60 L352.88 491.71 L353.12 491.81 L353.35 491.92 L353.58 492.03 L353.82 492.14 L354.05 492.24 L354.28 492.35 L354.52 492.45 L354.75 492.56 L354.99 492.67 L355.22 492.77 L355.45 492.88 L355.69 492.98 L355.92 493.08 L356.16 493.19 L356.39 493.29 L356.63 493.40 L356.86 493.50 L357.10 493.60 L357.33 493.70 L357.57 493.81 L357.81 493.91 L358.04 494.01 L358.28 494.11 L358.51 494.21 L358.75 494.31 L358.99 494.41 L359.22 494.51 L359.46 494.61 L359.70 494.71 L359.93 494.81 L360.17 494.91 L360.41 495.01 L360.64 495.11 L360.88 495.20 L361.12 495.30 L361.36 495.40 L361.59 495.50 L361.83 495.59 L362.07 495.69 L362.31 495.79 L362.55 495.88 L362.78 495.98 L363.02 496.07 L363.26 496.17 L363.50 496.26 L363.74 496.36 L363.98 496.45 L364.22 496.54 L364.46 496.64 L364.70 496.73 L364.93 496.82 L365.17 496.92 L365.41 497.01 L365.65 497.10 L365.89 497.19 L366.13 497.28 L366.37 497.37 L366.61 497.47 L366.85 497.56 L367.10 497.65 L367.34 497.74 L367.58 497.82 L367.82 497.91 L368.06 498.00 L368.30 498.09 L368.54 498.18 L368.78 498.27 L369.02 498.35 L369.27 498.44 L369.51 498.53 L369.75 498.62 L369.99 498.70 L370.23 498.79 L370.48 498.87 L370.72 498.96 L370.96 499.04 L371.20 499.13 L371.45 499.21 L371.69 499.30 L371.93 499.38 L372.17 499.46 L372.42 499.55 L372.66 499.63 L372.90 499.71 L373.15 499.80 L373.39 499.88 L373.63 499.96 L373.88 500.04 L374.12 500.12 L374.37 500.20 L374.61 500.28 L374.85 500.36 L375.10 500.44 L375.34 500.52 L375.59 500.60 L375.83 500.68 L376.08 500.76 L376.32 500.84 L376.57 500.91 L376.81 500.99 L377.06 501.07 L377.30 501.15 L377.55 501.22 L377.79 501.30 L378.04 501.37 L378.29 501.45 L378.53 501.53 L378.78 501.60 L379.02 501.67 L379.27 501.75 L379.52 501.82 L379.76 501.90 L380.01 501.97 L380.26 502.04 L380.50 502.12 L380.75 502.19 L381.00 502.26 L381.24 502.33 L381.49 502.40 L381.74 502.47 L381.99 502.55 L382.23 502.62 L382.48 502.69 L382.73 502.76 L382.98 502.82 L383.23 502.89 L383.47 502.96 L383.72 503.03 L383.97 503.10 L384.22 503.17 L384.47 503.23 L384.72 503.30 L384.96 503.37 L385.21 503.43 L385.46 503.50 L385.71 503.57 L385.96 503.63 L386.21 503.70 L386.46 503.76 L386.71 503.83 L386.96 503.89 L387.21 503.96 L387.46 504.02 L387.71 504.08 L387.96 504.15 L388.21 504.21 L388.46 504.27 L388.71 504.33 L388.96 504.39 L389.21 504.46 L389.46 504.52 L389.71 504.58 L389.96 504.64 L390.21 504.70 L390.46 504.76 L390.71 504.82 L390.96 504.88 L391.21 504.94 L391.46 505.00 L391.71 505.06 L391.96 505.12 L392.21 505.18 L392.47 505.24 L392.72 505.30 L392.97 505.36 L393.22 505.42 L393.47 505.48 L393.72 505.54 L393.97 505.59 L394.22 505.65 L394.47 505.71 L394.72 505.77 L394.98 505.83 L395.23 505.89 L395.48 505.95 L395.73 506.00 L395.98 506.06 L396.23 506.12 L396.48 506.18 L396.73 506.24 L396.98 506.29 L397.23 506.35 L397.48 506.41 L397.74 506.47 L397.99 506.53 L398.24 506.59 L398.49 506.65 L398.74 506.70 L398.99 506.76 L399.24 506.82 L399.49 506.88 L399.74 506.94 L399.99 507.00 L400.24 507.06 L400.49 507.12 L400.74 507.18 L400.99 507.24 L401.24 507.30 L401.49 507.36 L401.74 507.42 L401.99 507.48 L402.24 507.54 L402.49 507.60 L402.74 507.66 L402.99 507.72 L403.24 507.78 L403.49 507.84 L403.74 507.90 L403.99 507.96 L404.24 508.03 L404.49 508.09 L404.74 508.15 L404.98 508.22 L405.23 508.28 L405.48 508.34 L405.73 508.41 L405.98 508.47 L406.23 508.53 L406.47 508.60 L406.72 508.66 L406.97 508.73 L407.22 508.80 L407.46 508.86 L407.71 508.93 L407.96 508.99 L408.21 509.06 L408.45 509.13 L408.70 509.20 L408.94 509.27 L409.19 509.34 L409.44 509.40 L409.68 509.47 L409.93 509.54 L410.17 509.61 L410.42 509.69 L410.66 509.76 L410.91 509.83 L411.15 509.90 L411.40 509.97 L411.64 510.05 L411.89 510.12 L412.13 510.20 L412.38 510.27 L412.62 510.35 L412.86 510.42 L413.11 510.50 L413.35 510.58 L413.59 510.65 L413.83 510.73 L414.08 510.81 L414.32 510.89 L414.56 510.97 L414.80 511.05 L415.04 511.13 L415.28 511.21 L415.53 511.30 L415.77 511.38 L416.01 511.46 L416.25 511.55 L416.49 511.63 L416.72 511.72 L416.96 511.81 L417.20 511.90 L417.44 511.98 L417.68 512.07 L417.92 512.16 L418.15 512.26 L418.39 512.35 L418.63 512.44 L418.86 512.53 L419.10 512.63 L419.34 512.73 L419.57 512.82 L419.80 512.92 L420.04 513.02 L420.27 513.12 L420.51 513.22 L420.74 513.32 L420.97 513.42 L421.20 513.53 L421.44 513.63" stroke="#ff0000" stroke-dasharray="13.4 11.8 2.8 11.8"/>
</g>
<g fill="none" stroke="#000" stroke-width="1.25">
<rect x="404.3" y="506.3" width="33.5" height="20.8" stroke-width="1"/>
<line x1="357.8" y1="450.5" x2="398.5" y2="505.4"/>
<line x1="437.7" y1="506.4" x2="589.0" y2="451.6"/>
</g>
<rect x="351.6" y="275.3" width="241.4" height="145.5" fill="#fff" stroke="none"/>
<g clip-path="url(#ci)" fill="none" stroke-width="2.9">
<path d="M351.60 420.04 L352.18 419.71 L352.75 419.38 L353.33 419.05 L353.91 418.73 L354.49 418.40 L355.06 418.07 L355.64 417.75 L356.22 417.42 L356.80 417.10 L357.38 416.77 L357.95 416.45 L358.53 416.12 L359.11 415.80 L359.69 415.48 L360.27 415.15 L360.84 414.83 L361.42 414.51 L362.00 414.18 L362.58 413.86 L363.16 413.54 L363.73 413.22 L364.31 412.90 L364.89 412.58 L365.47 412.26 L366.05 411.94 L366.63 411.62 L367.20 411.30 L367.78 410.98 L368.36 410.66 L368.94 410.34 L369.52 410.02 L370.10 409.70 L370.67 409.38 L371.25 409.06 L371.83 408.75 L372.41 408.43 L372.99 408.11 L373.57 407.79 L374.15 407.48 L374.72 407.16 L375.30 406.84 L375.88 406.53 L376.46 406.21 L377.04 405.90 L377.62 405.58 L378.20 405.27 L378.78 404.95 L379.35 404.64 L379.93 404.32 L380.51 404.01 L381.09 403.69 L381.67 403.38 L382.25 403.06 L382.83 402.75 L383.41 402.44 L383.99 402.12 L384.56 401.81 L385.14 401.50 L385.72 401.18 L386.30 400.87 L386.88 400.56 L387.46 400.24 L388.04 399.93 L388.62 399.62 L389.20 399.31 L389.78 398.99 L390.35 398.68 L390.93 398.37 L391.51 398.06 L392.09 397.75 L392.67 397.44 L393.25 397.12 L393.83 396.81 L394.41 396.50 L394.99 396.19 L395.57 395.88 L396.15 395.57 L396.72 395.26 L397.30 394.95 L397.88 394.64 L398.46 394.33 L399.04 394.01 L399.62 393.70 L400.20 393.39 L400.78 393.08 L401.36 392.77 L401.94 392.46 L402.52 392.15 L403.09 391.84 L403.67 391.53 L404.25 391.22 L404.83 390.91 L405.41 390.60 L405.99 390.29 L406.57 389.98 L407.15 389.67 L407.73 389.36 L408.31 389.05 L408.89 388.74 L409.47 388.43 L410.04 388.12 L410.62 387.81 L411.20 387.50 L411.78 387.19 L412.36 386.88 L412.94 386.57 L413.52 386.26 L414.10 385.95 L414.68 385.64 L415.26 385.33 L415.83 385.02 L416.41 384.71 L416.99 384.40 L417.57 384.09 L418.15 383.78 L418.73 383.47 L419.31 383.16 L419.89 382.85 L420.47 382.54 L421.05 382.23 L421.62 381.91 L422.20 381.60 L422.78 381.29 L423.36 380.98 L423.94 380.67 L424.52 380.36 L425.10 380.05 L425.68 379.74 L426.25 379.43 L426.83 379.11 L427.41 378.80 L427.99 378.49 L428.57 378.18 L429.15 377.87 L429.73 377.55 L430.31 377.24 L430.88 376.93 L431.46 376.62 L432.04 376.30 L432.62 375.99 L433.20 375.68 L433.78 375.36 L434.35 375.05 L434.93 374.74 L435.51 374.42 L436.09 374.11 L436.67 373.80 L437.25 373.48 L437.82 373.17 L438.40 372.85 L438.98 372.54 L439.56 372.22 L440.14 371.91 L440.72 371.59 L441.29 371.28 L441.87 370.96 L442.45 370.64 L443.03 370.33 L443.61 370.01 L444.18 369.69 L444.76 369.38 L445.34 369.06 L445.92 368.74 L446.50 368.43 L447.07 368.11 L447.65 367.79 L448.23 367.47 L448.81 367.15 L449.38 366.83 L449.96 366.52 L450.54 366.20 L451.12 365.88 L451.69 365.56 L452.27 365.24 L452.85 364.92 L453.43 364.60 L454.00 364.28 L454.58 363.95 L455.16 363.63 L455.74 363.31 L456.31 362.99 L456.89 362.67 L457.47 362.34 L458.04 362.02 L458.62 361.70 L459.20 361.37 L459.77 361.05 L460.35 360.73 L460.93 360.40 L461.51 360.08 L462.08 359.75 L462.66 359.43 L463.24 359.10 L463.81 358.77 L464.39 358.45 L464.97 358.12 L465.54 357.79 L466.12 357.47 L466.69 357.14 L467.27 356.81 L467.85 356.48 L468.42 356.15 L469.00 355.82 L469.58 355.49 L470.15 355.16 L470.73 354.83 L471.30 354.50 L471.88 354.17 L472.46 353.84 L473.03 353.51 L473.61 353.17 L474.18 352.84 L474.76 352.51 L475.34 352.18 L475.91 351.85 L476.49 351.52 L477.07 351.19 L477.64 350.86 L478.22 350.53 L478.80 350.20 L479.38 349.88 L479.96 349.55 L480.54 349.22 L481.11 348.90 L481.69 348.58 L482.27 348.25 L482.85 347.93 L483.44 347.61 L484.02 347.29 L484.60 346.98 L485.18 346.66 L485.76 346.34 L486.35 346.03 L486.93 345.72 L487.52 345.41 L488.10 345.10 L488.69 344.80 L489.27 344.49 L489.86 344.19 L490.45 343.89 L491.04 343.59 L491.63 343.30 L492.22 343.01 L492.81 342.71 L493.40 342.43 L493.99 342.14 L494.59 341.86 L495.18 341.58 L495.78 341.30 L496.38 341.02 L496.97 340.75 L497.57 340.48 L498.17 340.22 L498.77 339.96 L499.37 339.70 L499.98 339.44 L500.58 339.19 L501.19 338.94 L501.79 338.69 L502.40 338.45 L503.01 338.21 L503.62 337.97 L504.23 337.74 L504.84 337.52 L505.46 337.29 L506.07 337.07 L506.69 336.86 L507.31 336.64 L507.93 336.44 L508.55 336.23 L509.17 336.04 L509.79 335.84 L510.42 335.65 L511.04 335.47 L511.67 335.29 L512.30 335.11 L512.93 334.94 L513.56 334.77 L514.20 334.61 L514.83 334.45 L515.47 334.29 L516.10 334.14 L516.74 334.00 L517.38 333.86 L518.02 333.72 L518.66 333.59 L519.30 333.46 L519.95 333.34 L520.59 333.22 L521.24 333.11 L521.88 333.00 L522.53 332.90 L523.18 332.80 L523.83 332.70 L524.48 332.61 L525.13 332.53 L525.78 332.45 L526.43 332.37 L527.08 332.30 L527.74 332.23 L528.39 332.17 L529.05 332.11 L529.70 332.06 L530.36 332.01 L531.01 331.97 L531.67 331.93 L532.33 331.89 L532.98 331.86 L533.64 331.83 L534.30 331.81 L534.96 331.79 L535.62 331.78 L536.28 331.77 L536.94 331.76 L537.60 331.76 L538.26 331.76 L538.92 331.76 L539.58 331.77 L540.24 331.78 L540.91 331.79 L541.57 331.81 L542.23 331.83 L542.89 331.85 L543.55 331.88 L544.21 331.91 L544.88 331.94 L545.54 331.98 L546.20 332.01 L546.86 332.05 L547.52 332.10 L548.18 332.14 L548.84 332.19 L549.51 332.24 L550.17 332.29 L550.83 332.35 L551.49 332.41 L552.15 332.46 L552.81 332.52 L553.47 332.59 L554.13 332.65 L554.79 332.72 L555.45 332.79 L556.10 332.86 L556.76 332.93 L557.42 333.00 L558.08 333.07 L558.74 333.15 L559.40 333.22 L560.06 333.30 L560.71 333.38 L561.37 333.46 L562.03 333.54 L562.69 333.62 L563.34 333.70 L564.00 333.79 L564.66 333.87 L565.32 333.95 L565.97 334.04 L566.63 334.12 L567.29 334.21 L567.94 334.29 L568.60 334.38 L569.25 334.46 L569.91 334.55 L570.57 334.63 L571.22 334.72 L571.88 334.80 L572.53 334.89 L573.19 334.97 L573.84 335.06 L574.50 335.14 L575.15 335.22 L575.81 335.30 L576.46 335.39 L577.11 335.47 L577.77 335.55 L578.42 335.63 L579.08 335.70 L579.73 335.78 L580.38 335.85 L581.04 335.93 L581.69 336.00 L582.34 336.07 L582.99 336.14 L583.65 336.21 L584.30 336.28 L584.95 336.34 L585.60 336.41 L586.26 336.47 L586.91 336.53 L587.56 336.58 L588.21 336.64 L588.86 336.69 L589.52 336.74 L590.17 336.79 L590.82 336.84 L591.47 336.88 L592.12 336.92 L592.77 336.96" stroke="#00c800"/>
<path d="M351.61 292.17 L351.92 292.25 L352.23 292.32 L352.54 292.40 L352.85 292.48 L353.16 292.56 L353.47 292.64 L353.79 292.71 L354.10 292.79 L354.41 292.87 L354.72 292.94 L355.03 293.02 L355.34 293.10 L355.65 293.17 L355.97 293.25 L356.28 293.32 L356.59 293.40 L356.90 293.47 L357.21 293.55 L357.53 293.62 L357.84 293.70 L358.15 293.77 L358.46 293.85 L358.77 293.92 L359.09 293.99 L359.40 294.07 L359.71 294.14 L360.02 294.21 L360.33 294.28 L360.65 294.36 L360.96 294.43 L361.27 294.50 L361.58 294.57 L361.90 294.65 L362.21 294.72 L362.52 294.79 L362.83 294.86 L363.15 294.93 L363.46 295.00 L363.77 295.07 L364.08 295.14 L364.40 295.21 L364.71 295.29 L365.02 295.36 L365.33 295.43 L365.65 295.50 L365.96 295.57 L366.27 295.64 L366.59 295.71 L366.90 295.77 L367.21 295.84 L367.52 295.91 L367.84 295.98 L368.15 296.05 L368.46 296.12 L368.78 296.19 L369.09 296.26 L369.40 296.33 L369.71 296.40 L370.03 296.46 L370.34 296.53 L370.65 296.60 L370.97 296.67 L371.28 296.74 L371.59 296.81 L371.90 296.88 L372.22 296.94 L372.53 297.01 L372.84 297.08 L373.16 297.15 L373.47 297.22 L373.78 297.28 L374.10 297.35 L374.41 297.42 L374.72 297.49 L375.04 297.55 L375.35 297.62 L375.66 297.69 L375.98 297.76 L376.29 297.83 L376.60 297.89 L376.91 297.96 L377.23 298.03 L377.54 298.10 L377.85 298.16 L378.17 298.23 L378.48 298.30 L378.79 298.37 L379.11 298.44 L379.42 298.50 L379.73 298.57 L380.05 298.64 L380.36 298.71 L380.67 298.77 L380.98 298.84 L381.30 298.91 L381.61 298.98 L381.92 299.05 L382.24 299.12 L382.55 299.18 L382.86 299.25 L383.18 299.32 L383.49 299.39 L383.80 299.46 L384.11 299.53 L384.43 299.59 L384.74 299.66 L385.05 299.73 L385.37 299.80 L385.68 299.87 L385.99 299.94 L386.30 300.01 L386.62 300.08 L386.93 300.15 L387.24 300.22 L387.56 300.29 L387.87 300.36 L388.18 300.43 L388.49 300.50 L388.81 300.57 L389.12 300.64 L389.43 300.71 L389.74 300.78 L390.06 300.85 L390.37 300.92 L390.68 300.99 L390.99 301.06 L391.31 301.13 L391.62 301.20 L391.93 301.27 L392.24 301.34 L392.56 301.42 L392.87 301.49 L393.18 301.56 L393.49 301.63 L393.80 301.70 L394.12 301.77 L394.43 301.85 L394.74 301.92 L395.05 301.99 L395.37 302.06 L395.68 302.13 L395.99 302.21 L396.30 302.28 L396.61 302.35 L396.93 302.42 L397.24 302.50 L397.55 302.57 L397.86 302.64 L398.18 302.71 L398.49 302.78 L398.80 302.86 L399.11 302.93 L399.42 303.00 L399.74 303.07 L400.05 303.15 L400.36 303.22 L400.67 303.29 L400.99 303.36 L401.30 303.43 L401.61 303.50 L401.92 303.58 L402.24 303.65 L402.55 303.72 L402.86 303.79 L403.17 303.86 L403.49 303.93 L403.80 304.01 L404.11 304.08 L404.42 304.15 L404.74 304.22 L405.05 304.29 L405.36 304.36 L405.67 304.43 L405.99 304.50 L406.30 304.57 L406.61 304.64 L406.93 304.71 L407.24 304.78 L407.55 304.85 L407.86 304.92 L408.18 304.99 L408.49 305.06 L408.80 305.13 L409.12 305.20 L409.43 305.27 L409.74 305.33 L410.06 305.40 L410.37 305.47 L410.68 305.54 L411.00 305.61 L411.31 305.67 L411.62 305.74 L411.94 305.81 L412.25 305.87 L412.56 305.94 L412.88 306.01 L413.19 306.07 L413.51 306.14 L413.82 306.20 L414.13 306.27 L414.45 306.33 L414.76 306.40 L415.08 306.46 L415.39 306.52 L415.71 306.59 L416.02 306.65 L416.33 306.71 L416.65 306.78 L416.96 306.84 L417.28 306.90 L417.59 306.96 L417.91 307.03 L418.22 307.09 L418.54 307.15 L418.85 307.21 L419.17 307.27 L419.48 307.33 L419.80 307.39 L420.11 307.45 L420.43 307.52 L420.74 307.58 L421.06 307.64 L421.37 307.70 L421.69 307.76 L422.00 307.82 L422.32 307.88 L422.63 307.94 L422.95 308.00 L423.26 308.07 L423.58 308.13 L423.89 308.19 L424.20 308.25 L424.52 308.31 L424.83 308.38 L425.15 308.44 L425.46 308.50 L425.77 308.56 L426.09 308.63 L426.40 308.69 L426.72 308.76 L427.03 308.82 L427.34 308.89 L427.66 308.95 L427.97 309.02 L428.28 309.09 L428.59 309.15 L428.91 309.22 L429.22 309.29 L429.53 309.36 L429.84 309.43 L430.16 309.50 L430.47 309.57 L430.78 309.64 L431.09 309.71 L431.40 309.78 L431.71 309.85 L432.03 309.92 L432.34 309.99 L432.65 310.07 L432.96 310.14 L433.27 310.21 L433.58 310.28 L433.89 310.36 L434.20 310.43 L434.51 310.50 L434.82 310.58 L435.13 310.65 L435.45 310.72 L435.76 310.80 L436.07 310.87 L436.38 310.95 L436.69 311.02 L437.00 311.09 L437.31 311.17 L437.62 311.24 L437.93 311.31 L438.24 311.39 L438.55 311.46 L438.87 311.53 L439.18 311.60 L439.49 311.68 L439.80 311.75 L440.11 311.82 L440.42 311.89 L440.74 311.96 L441.05 312.04 L441.36 312.11 L441.67 312.18 L441.98 312.25 L442.30 312.32 L442.61 312.38 L442.92 312.45 L443.23 312.52 L443.55 312.59 L443.86 312.66 L444.17 312.73 L444.49 312.79 L444.80 312.86 L445.12 312.93 L445.43 312.99 L445.74 313.06 L446.06 313.13 L446.37 313.19 L446.69 313.26 L447.00 313.33 L447.31 313.39 L447.63 313.46 L447.94 313.53 L448.26 313.60 L448.57 313.66 L448.89 313.73 L449.20 313.80 L449.52 313.87 L449.83 313.93 L450.15 314.00 L450.46 314.07 L450.78 314.14 L451.09 314.21 L451.40 314.28 L451.72 314.35 L452.03 314.42 L452.35 314.50 L452.66 314.57 L452.98 314.64 L453.29 314.71 L453.61 314.79 L453.92 314.86 L454.24 314.94 L454.55 315.02 L454.87 315.09 L455.18 315.17 L455.49 315.25 L455.81 315.33 L456.12 315.41 L456.44 315.49 L456.75 315.57 L457.06 315.66 L457.38 315.74 L457.69 315.83 L458.00 315.92 L458.32 316.00 L458.63 316.09 L458.94 316.19 L459.25 316.28 L459.56 316.37 L459.87 316.47 L460.18 316.57 L460.48 316.67 L460.79 316.77 L461.10 316.87 L461.40 316.97 L461.71 317.08 L462.01 317.19 L462.31 317.30 L462.61 317.41 L462.91 317.53 L463.21 317.65 L463.51 317.76 L463.80 317.89 L464.10 318.01 L464.39 318.14 L464.68 318.27 L464.97 318.40 L465.26 318.53 L465.55 318.67 L465.84 318.81 L466.12 318.95 L466.40 319.09 L466.68 319.24 L466.96 319.39 L467.24 319.55 L467.51 319.70 L467.79 319.86 L468.06 320.03 L468.32 320.19 L468.59 320.36 L468.86 320.53 L469.12 320.71 L469.38 320.89 L469.63 321.07 L469.89 321.26 L470.14 321.45 L470.39 321.65 L470.63 321.84 L470.88 322.05 L471.12 322.25 L471.36 322.46 L471.59 322.68 L471.82 322.90 L472.05 323.12 L472.27 323.34 L472.50 323.58 L472.71 323.81 L472.93 324.05 L473.14 324.30 L473.35 324.55 L473.55 324.80 L473.75 325.06 L473.95 325.32" stroke="#ff0000" stroke-dasharray="13.4 11.8 2.8 11.8"/>
<path d="M351.63 413.54 L351.95 413.33 L352.27 413.13 L352.59 412.92 L352.91 412.71 L353.23 412.51 L353.55 412.30 L353.87 412.09 L354.19 411.89 L354.51 411.68 L354.83 411.47 L355.15 411.27 L355.47 411.06 L355.79 410.86 L356.11 410.65 L356.44 410.45 L356.76 410.24 L357.08 410.03 L357.40 409.83 L357.72 409.62 L358.04 409.42 L358.36 409.21 L358.69 409.01 L359.01 408.80 L359.33 408.60 L359.65 408.40 L359.97 408.19 L360.29 407.99 L360.62 407.78 L360.94 407.58 L361.26 407.37 L361.58 407.17 L361.91 406.97 L362.23 406.76 L362.55 406.56 L362.87 406.36 L363.20 406.15 L363.52 405.95 L363.84 405.75 L364.16 405.54 L364.49 405.34 L364.81 405.14 L365.13 404.93 L365.46 404.73 L365.78 404.53 L366.10 404.32 L366.42 404.12 L366.75 403.92 L367.07 403.72 L367.39 403.51 L367.72 403.31 L368.04 403.11 L368.36 402.91 L368.69 402.70 L369.01 402.50 L369.33 402.30 L369.66 402.10 L369.98 401.89 L370.30 401.69 L370.63 401.49 L370.95 401.29 L371.27 401.08 L371.60 400.88 L371.92 400.68 L372.25 400.48 L372.57 400.28 L372.89 400.07 L373.22 399.87 L373.54 399.67 L373.86 399.47 L374.19 399.26 L374.51 399.06 L374.83 398.86 L375.16 398.66 L375.48 398.46 L375.81 398.25 L376.13 398.05 L376.45 397.85 L376.78 397.65 L377.10 397.45 L377.42 397.24 L377.75 397.04 L378.07 396.84 L378.39 396.64 L378.72 396.44 L379.04 396.23 L379.37 396.03 L379.69 395.83 L380.01 395.63 L380.34 395.42 L380.66 395.22 L380.98 395.02 L381.31 394.82 L381.63 394.61 L381.95 394.41 L382.28 394.21 L382.60 394.01 L382.92 393.80 L383.25 393.60 L383.57 393.40 L383.89 393.20 L384.22 392.99 L384.54 392.79 L384.86 392.59 L385.19 392.38 L385.51 392.18 L385.83 391.98 L386.15 391.78 L386.48 391.57 L386.80 391.37 L387.12 391.17 L387.45 390.96 L387.77 390.76 L388.09 390.55 L388.41 390.35 L388.74 390.15 L389.06 389.94 L389.38 389.74 L389.70 389.53 L390.02 389.33 L390.35 389.13 L390.67 388.92 L390.99 388.72 L391.31 388.51 L391.63 388.31 L391.96 388.10 L392.28 387.90 L392.60 387.69 L392.92 387.49 L393.24 387.28 L393.56 387.08 L393.89 386.87 L394.21 386.67 L394.53 386.46 L394.85 386.26 L395.17 386.05 L395.49 385.84 L395.81 385.64 L396.13 385.43 L396.45 385.23 L396.77 385.02 L397.09 384.81 L397.41 384.61 L397.73 384.40 L398.06 384.19 L398.38 383.98 L398.70 383.78 L399.02 383.57 L399.33 383.36 L399.65 383.15 L399.97 382.95 L400.29 382.74 L400.61 382.53 L400.93 382.32 L401.25 382.11 L401.57 381.91 L401.89 381.70 L402.21 381.49 L402.53 381.28 L402.85 381.07 L403.17 380.86 L403.49 380.65 L403.80 380.44 L404.12 380.24 L404.44 380.03 L404.76 379.82 L405.08 379.61 L405.40 379.40 L405.72 379.19 L406.03 378.98 L406.35 378.77 L406.67 378.56 L406.99 378.35 L407.31 378.14 L407.63 377.93 L407.94 377.72 L408.26 377.51 L408.58 377.30 L408.90 377.09 L409.22 376.88 L409.54 376.67 L409.85 376.46 L410.17 376.25 L410.49 376.04 L410.81 375.83 L411.13 375.62 L411.44 375.41 L411.76 375.20 L412.08 374.99 L412.40 374.78 L412.71 374.57 L413.03 374.36 L413.35 374.15 L413.67 373.94 L413.99 373.72 L414.30 373.51 L414.62 373.30 L414.94 373.09 L415.26 372.88 L415.57 372.67 L415.89 372.46 L416.21 372.25 L416.53 372.04 L416.85 371.83 L417.16 371.62 L417.48 371.41 L417.80 371.20 L418.12 370.99 L418.44 370.78 L418.75 370.57 L419.07 370.36 L419.39 370.14 L419.71 369.93 L420.03 369.72 L420.34 369.51 L420.66 369.30 L420.98 369.09 L421.30 368.88 L421.62 368.67 L421.93 368.46 L422.25 368.25 L422.57 368.04 L422.89 367.83 L423.21 367.62 L423.53 367.41 L423.84 367.20 L424.16 366.99 L424.48 366.78 L424.80 366.57 L425.12 366.36 L425.44 366.15 L425.76 365.94 L426.08 365.73 L426.39 365.52 L426.71 365.31 L427.03 365.10 L427.35 364.90 L427.67 364.69 L427.99 364.48 L428.31 364.27 L428.63 364.06 L428.95 363.85 L429.27 363.64 L429.59 363.43 L429.91 363.22 L430.23 363.02 L430.55 362.81 L430.87 362.60 L431.19 362.39 L431.51 362.18 L431.83 361.98 L432.15 361.77 L432.47 361.56 L432.79 361.35 L433.11 361.15 L433.43 360.94 L433.75 360.73 L434.07 360.52 L434.39 360.32 L434.71 360.11 L435.03 359.90 L435.35 359.69 L435.68 359.49 L436.00 359.28 L436.32 359.07 L436.64 358.87 L436.96 358.66 L437.28 358.45 L437.60 358.24 L437.92 358.04 L438.24 357.83 L438.56 357.62 L438.88 357.41 L439.20 357.20 L439.52 357.00 L439.84 356.79 L440.16 356.58 L440.48 356.37 L440.80 356.16 L441.12 355.95 L441.44 355.74 L441.75 355.53 L442.07 355.32 L442.39 355.11 L442.71 354.90 L443.03 354.69 L443.34 354.48 L443.66 354.27 L443.98 354.05 L444.29 353.84 L444.61 353.63 L444.93 353.42 L445.24 353.20 L445.56 352.99 L445.87 352.77 L446.19 352.56 L446.50 352.34 L446.82 352.13 L447.13 351.91 L447.44 351.69 L447.75 351.48 L448.07 351.26 L448.38 351.04 L448.69 350.82 L449.00 350.60 L449.31 350.38 L449.62 350.16 L449.93 349.94 L450.24 349.72 L450.55 349.50 L450.86 349.28 L451.16 349.05 L451.47 348.83 L451.78 348.60 L452.08 348.38 L452.39 348.15 L452.69 347.92 L453.00 347.70 L453.30 347.47 L453.60 347.24 L453.91 347.01 L454.21 346.78 L454.51 346.55 L454.81 346.32 L455.11 346.08 L455.41 345.85 L455.71 345.61 L456.01 345.38 L456.30 345.14 L456.60 344.91 L456.90 344.67 L457.19 344.43 L457.49 344.19 L457.78 343.95 L458.07 343.71 L458.37 343.47 L458.66 343.23 L458.95 342.98 L459.25 342.74 L459.54 342.50 L459.83 342.25 L460.12 342.01 L460.41 341.76 L460.70 341.51 L461.00 341.27 L461.29 341.02 L461.58 340.77 L461.87 340.52 L462.16 340.27 L462.45 340.03 L462.74 339.78 L463.03 339.53 L463.32 339.28 L463.61 339.02 L463.90 338.77 L464.19 338.52 L464.48 338.27 L464.78 338.02 L465.07 337.77 L465.36 337.51 L465.65 337.26 L465.94 337.01 L466.24 336.75 L466.53 336.50 L466.82 336.25 L467.11 335.99 L467.40 335.73 L467.69 335.48 L467.98 335.22 L468.26 334.96 L468.54 334.69 L468.82 334.43 L469.10 334.16 L469.37 333.89 L469.64 333.62 L469.90 333.35 L470.16 333.07 L470.41 332.79 L470.66 332.51 L470.90 332.22 L471.13 331.93 L471.36 331.63 L471.58 331.34 L471.79 331.03 L472.00 330.72 L472.19 330.41 L472.38 330.09 L472.56 329.77 L472.73 329.44 L472.89 329.11 L473.05 328.77 L473.19 328.43 L473.32 328.08 L473.43 327.72 L473.54 327.36 L473.64 326.99 L473.72 326.61 L473.79 326.23 L473.85 325.83 L473.89 325.44" stroke="#0000ff" stroke-dasharray="13.4 14.5" stroke-dashoffset="2.3"/>
</g>
<g fill="none" stroke="#111" stroke-width="1">
<rect x="351.5" y="275.5" width="241" height="145.5"/>
<line x1="472.3" y1="275.5" x2="472.3" y2="281"/><line x1="472.3" y1="421" x2="472.3" y2="416"/>
<line x1="351.5" y1="336.8" x2="357" y2="336.8"/><line x1="592.5" y1="336.8" x2="587" y2="336.8"/>
<line x1="351.5" y1="401.2" x2="357" y2="401.2"/><line x1="592.5" y1="401.2" x2="587" y2="401.2"/>
</g>
<g fill="none" stroke="#222" stroke-width="1">
<line x1="216.5" y1="12" x2="216.5" y2="21.2"/>
<line x1="216.5" y1="229" x2="216.5" y2="246.9"/>
<line x1="327.3" y1="12" x2="327.3" y2="21.2"/>
<line x1="327.3" y1="229" x2="327.3" y2="246.9"/>
<line x1="437.8" y1="12" x2="437.8" y2="21.2"/>
<line x1="437.8" y1="229" x2="437.8" y2="246.9"/>
<line x1="548.4" y1="12" x2="548.4" y2="21.2"/>
<line x1="548.4" y1="229" x2="548.4" y2="246.9"/>
<line x1="106.4" y1="57.2" x2="111.9" y2="57.2"/><line x1="659" y1="57.2" x2="653.6" y2="57.2"/>
<line x1="106.4" y1="102.4" x2="111.9" y2="102.4"/><line x1="659" y1="102.4" x2="653.6" y2="102.4"/>
<line x1="106.4" y1="147.5" x2="111.9" y2="147.5"/><line x1="659" y1="147.5" x2="653.6" y2="147.5"/>
<line x1="106.4" y1="192.6" x2="111.9" y2="192.6"/><line x1="659" y1="192.6" x2="653.6" y2="192.6"/>
</g>
<g fill="none" stroke="#111" stroke-width="1">
<line x1="216.5" y1="636.7" x2="216.5" y2="630.9"/>
<line x1="327.3" y1="636.7" x2="327.3" y2="630.9"/>
<line x1="437.8" y1="636.7" x2="437.8" y2="630.9"/>
<line x1="548.4" y1="636.7" x2="548.4" y2="630.9"/>
<line x1="106" y1="324.0" x2="111.7" y2="324.0"/><line x1="659" y1="324.0" x2="653.6" y2="324.0"/>
<line x1="106" y1="410.9" x2="111.7" y2="410.9"/><line x1="659" y1="410.9" x2="653.6" y2="410.9"/>
<line x1="106" y1="497.5" x2="111.7" y2="497.5"/><line x1="659" y1="497.5" x2="653.6" y2="497.5"/>
<line x1="106" y1="584.4" x2="111.7" y2="584.4"/><line x1="659" y1="584.4" x2="653.6" y2="584.4"/>
</g>
<g fill="none" stroke="#000" stroke-width="1">
<line x1="105.9" y1="11.9" x2="659.5" y2="11.9"/>
<line x1="106.45" y1="11.4" x2="106.45" y2="237.5" stroke="#222"/>
<line x1="106" y1="237.5" x2="106" y2="637.25"/>
<line x1="105.5" y1="636.72" x2="659.5" y2="636.72" stroke="#777" stroke-width="1.7"/>
<line x1="659" y1="11.4" x2="659" y2="637.25"/>
<line x1="106" y1="237.45" x2="659" y2="237.45"/>
</g>
<g font-family="Liberation Sans, sans-serif" fill="#000" style="filter:grayscale(1)">
<text transform="translate(101.2,24.6) scale(0.96,1)" font-size="30.5" text-anchor="end">8.4</text>
<text transform="translate(100.0,112.9) scale(0.96,1)" font-size="30.5" text-anchor="end">8.39</text>
<text transform="translate(100.0,203.1) scale(0.96,1)" font-size="30.5" text-anchor="end">8.38</text>
<text transform="translate(97.6,333.0) scale(0.96,1)" font-size="30.5" text-anchor="end">0.02</text>
<text transform="translate(84.2,506.2) scale(0.96,1)" font-size="30.5" text-anchor="end">0.0</text>
<path transform="translate(84.1,506.0) scale(0.01431,-0.01431)" d="M763 0H583V1147Q518 1085 412 1023T223 930V1104Q375 1175 489 1277T650 1474H763Z"/>
<text transform="translate(107.0,668.1) scale(0.96,1)" font-size="30.5" text-anchor="middle">0</text>
<text transform="translate(217.5,668.1) scale(0.96,1)" font-size="30.5" text-anchor="middle">0.2</text>
<text transform="translate(327.7,668.1) scale(0.96,1)" font-size="30.5" text-anchor="middle">0.4</text>
<text transform="translate(438.1,668.1) scale(0.96,1)" font-size="30.5" text-anchor="middle">0.6</text>
<text transform="translate(548.8,668.1) scale(0.96,1)" font-size="30.5" text-anchor="middle">0.8</text>
<path transform="translate(648.3,667.6) scale(0.01431,-0.01431)" d="M763 0H583V1147Q518 1085 412 1023T223 930V1104Q375 1175 489 1277T650 1474H763Z"/>
<text transform="translate(356.7,443.9) scale(0.96,1)" font-size="22" text-anchor="middle">0.54</text>
<text transform="translate(472.2,443.9) scale(0.96,1)" font-size="22" text-anchor="middle">0.57</text>
<text transform="translate(589.9,445.0) scale(0.96,1)" font-size="22" text-anchor="middle">0.6</text>
<text transform="translate(597,339.0) scale(0.96,1)" font-size="22" text-anchor="start">9</text>
<text transform="translate(597,408.3) scale(0.96,1)" font-size="22" text-anchor="start">8.5</text>
<text transform="translate(599.6,277.3) scale(0.96,1)" font-size="22" text-anchor="start">x</text>
<path transform="translate(610.2,277.3) scale(0.01030,-0.01030)" d="M763 0H583V1147Q518 1085 412 1023T223 930V1104Q375 1175 489 1277T650 1474H763Z"/>
<text transform="translate(621.9,277.3) scale(0.96,1)" font-size="22" text-anchor="start">0<tspan dy="-12" font-size="15.5">-3</tspan></text>
<text transform="translate(381.1,696.7) scale(0.99,1)" font-size="29.3" text-anchor="middle">loss/gain ratio <tspan dx="-1.2" font-family="Liberation Serif, serif" font-size="31.5" stroke="#000" stroke-width="0.35">τ</tspan></text>
<text transform="translate(31.8,150.2) rotate(-90) scale(1.06,1)" font-size="24.8">k</text>
<text transform="translate(31.8,131.7) rotate(-90) scale(1.09,1)" font-size="24.5">(μm</text>
<text transform="translate(19.8,86.2) rotate(-90) scale(0.9,1)" font-size="17.8">-</text>
<path transform="translate(19.8,86.2) rotate(-90) translate(5.3,0) scale(0.00782,-0.00869)" d="M763 0H583V1147Q518 1085 412 1023T223 930V1104Q375 1175 489 1277T650 1474H763Z"/>
<text transform="translate(31.8,72.0) rotate(-90) scale(1.09,1)" font-size="24.5">)</text>
<text transform="translate(20.6,418.6) rotate(-90)" font-size="27.5">n<tspan dx="0.5" dy="11.0" font-size="22">i</tspan></text>
</g>
</svg>
</body></html>
